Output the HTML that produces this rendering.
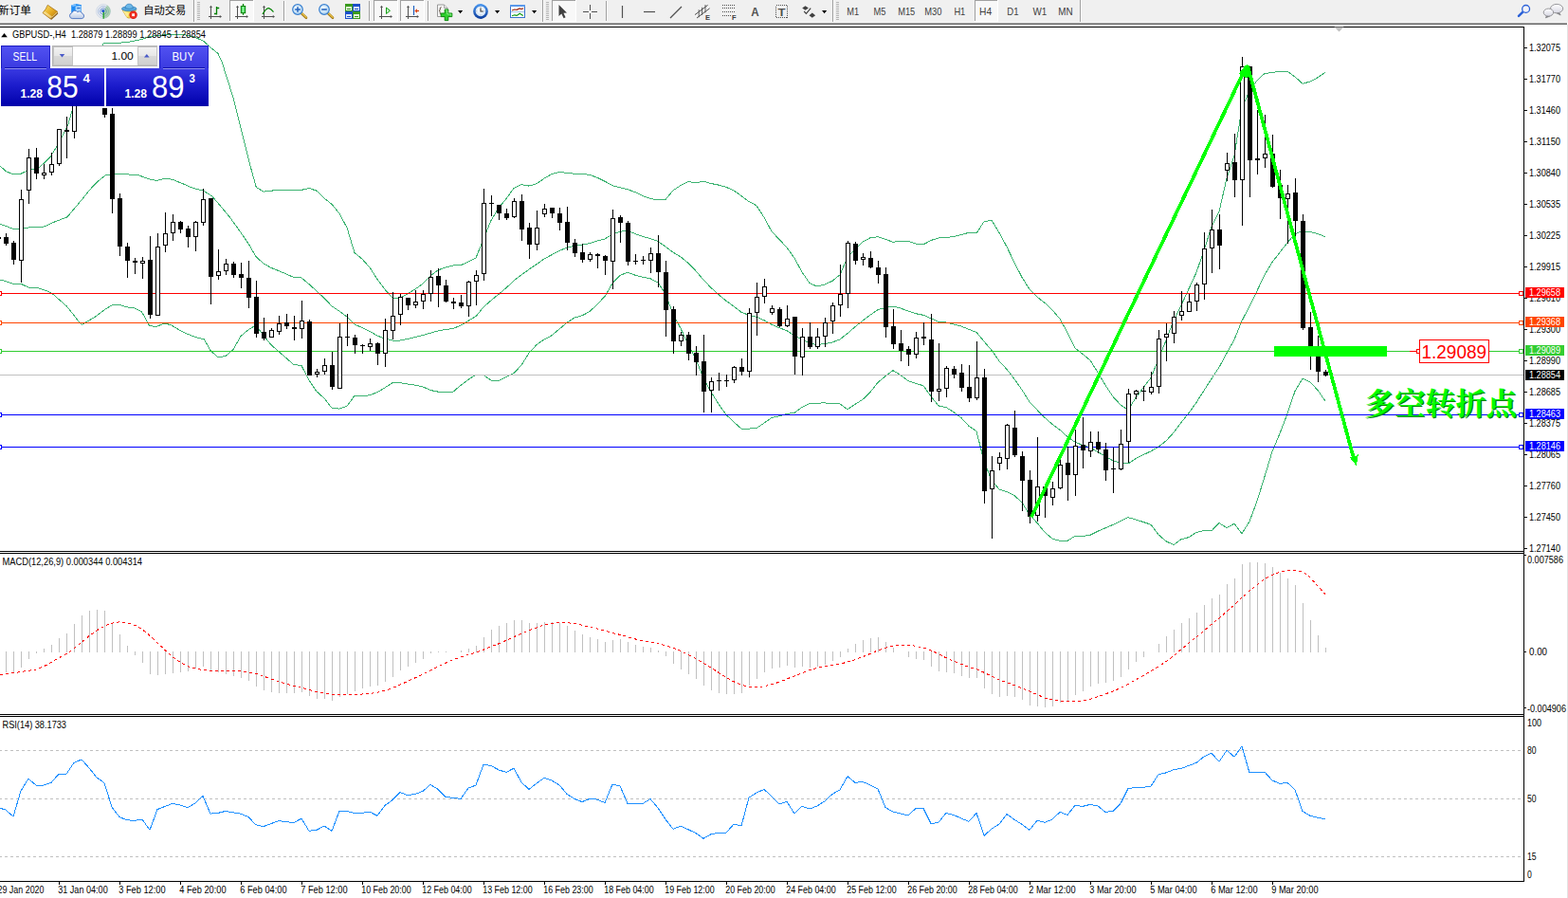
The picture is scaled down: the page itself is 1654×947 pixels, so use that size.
<!DOCTYPE html>
<html><head><meta charset="utf-8"><title>GBPUSD-,H4</title>
<style>html,body{margin:0;padding:0;background:#fff;overflow:hidden}body{width:1654px;height:947px;font-family:"Liberation Sans",sans-serif}text{font-family:"Liberation Sans",sans-serif}</style>
</head><body><svg width="1654" height="947" viewBox="0 0 1654 947" font-family="Liberation Sans, sans-serif" style="display:block"><rect x="0" y="0" width="1654" height="947" fill="#fff" />
<rect x="0" y="0" width="1654" height="24" fill="#f0f0f0" />
<rect x="0" y="23" width="1654" height="1" fill="#f5f5f5" />
<rect x="0" y="24" width="1653" height="1" fill="#a0a0a0" />
<rect x="0" y="25" width="1653" height="1" fill="#696969" />
<rect x="1653" y="26" width="1" height="921" fill="#e3e3e3" />
<rect x="0" y="28" width="1608" height="1" fill="#000" />
<rect x="1607" y="28" width="1" height="902" fill="#000" />
<rect x="0" y="581" width="1608" height="1" fill="#000" />
<rect x="0" y="583" width="1608" height="1" fill="#000" />
<rect x="0" y="753" width="1608" height="1" fill="#000" />
<rect x="0" y="755" width="1608" height="1" fill="#000" />
<rect x="0" y="929" width="1608" height="1" fill="#000" />
<g id="bb">
<polyline points="0.0,175.0 6.7,181.0 13.3,183.4 21.7,183.4 27.5,180.6 33.4,178.4 40.0,177.6 46.7,171.7 53.4,165.0 60.0,154.2 66.7,141.7 71.7,131.7 76.0,116.7 86.0,80.0 94.0,66.0 102.0,58.0 107.6,49.0 109.5,45.4 120.0,45.6 135.0,44.5 150.0,41.5 158.0,38.5 175.0,36.5 195.0,36.8 205.0,39.0 215.0,43.5 222.0,50.0 230.0,56.5 234.0,65.0 246.0,103.0 259.7,157.8 263.6,173.4 270.3,197.6 278.0,202.1 286.0,201.1 294.0,200.6 302.0,200.3 310.0,200.6 318.0,200.4 326.0,198.4 334.0,201.2 342.0,209.1 350.0,215.4 358.0,225.1 366.0,240.1 374.0,266.5 382.0,273.2 390.0,282.0 398.0,294.5 406.0,305.2 414.0,314.3 422.0,314.2 430.0,309.9 438.0,304.9 446.0,299.3 454.0,290.8 462.0,284.9 470.0,282.0 478.0,280.0 486.0,279.7 494.0,276.2 502.0,272.0 510.0,252.3 518.0,232.5 526.0,219.2 534.0,209.6 542.0,198.4 550.0,194.7 558.0,196.1 566.0,193.8 574.0,188.2 582.0,183.5 590.0,181.6 598.0,182.2 606.0,183.2 614.0,183.5 622.0,184.3 630.0,187.3 638.0,191.2 646.0,195.7 654.0,197.8 662.0,199.7 670.0,202.7 678.0,206.5 686.0,209.4 694.0,210.8 702.0,210.5 710.0,200.8 718.0,195.5 726.0,191.6 734.0,192.8 742.0,191.2 750.0,193.5 758.0,195.1 766.0,197.3 774.0,201.0 782.0,206.5 790.0,212.5 798.0,216.8 806.0,229.3 814.0,244.1 822.0,252.4 830.0,261.0 838.0,272.2 846.0,286.9 854.0,298.6 862.0,302.1 870.0,300.1 878.0,296.3 886.0,289.8 894.0,271.4 902.0,263.0 910.0,255.0 918.0,250.8 926.0,249.8 934.0,252.3 942.0,255.3 950.0,254.3 958.0,254.4 966.0,257.1 974.0,257.9 982.0,253.5 990.0,251.0 998.0,250.5 1006.0,249.5 1014.0,247.6 1022.0,245.3 1030.0,246.0 1038.0,233.8 1046.0,232.2 1054.0,245.4 1062.0,260.2 1070.0,276.9 1078.0,292.4 1086.0,305.1 1094.0,313.2 1102.0,319.3 1110.0,326.9 1118.0,336.2 1126.0,350.8 1134.0,367.1 1142.0,373.3 1150.0,380.0 1158.0,392.7 1166.0,406.3 1174.0,418.3 1182.0,426.9 1190.0,432.5 1198.0,419.5 1206.0,408.7 1214.0,398.5 1222.0,378.8 1230.0,359.0 1238.0,337.8 1246.0,322.0 1254.0,304.6 1262.0,287.3 1270.0,264.2 1278.0,239.0 1286.0,223.1 1294.0,188.1 1302.0,164.1 1310.0,114.0 1318.0,96.2 1326.0,84.9 1334.0,77.4 1342.0,76.7 1350.0,75.1 1358.0,75.2 1366.0,81.0 1374.0,88.2 1382.0,86.1 1390.0,81.8 1398.0,76.3" fill="none" stroke="#3cb371" stroke-width="1" shape-rendering="crispEdges"/>
<polyline points="0.0,236.5 6.7,238.5 14.0,241.5 21.7,241.5 30.0,240.0 41.7,239.8 48.4,238.5 56.7,234.3 63.4,231.8 71.0,228.8 78.4,220.0 86.8,210.0 95.0,199.8 103.5,191.0 111.0,185.0 116.8,184.0 130.0,183.4 146.8,185.0 158.5,189.3 165.0,190.4 175.0,188.0 182.0,189.3 192.0,193.4 203.6,198.4 214.4,201.0 223.6,206.8 233.6,218.5 242.0,228.5 250.3,240.0 262.0,256.8 270.0,270.6 278.0,278.0 286.0,282.4 294.0,285.6 302.0,289.0 310.0,292.6 318.0,292.9 326.0,299.7 334.0,307.0 342.0,314.5 350.0,322.8 358.0,328.1 366.0,334.2 374.0,341.9 382.0,345.6 390.0,349.3 398.0,354.1 406.0,357.0 414.0,359.0 422.0,359.0 430.0,357.5 438.0,355.5 446.0,353.6 454.0,351.2 462.0,349.0 470.0,347.5 478.0,346.6 486.0,343.0 494.0,338.3 502.0,333.6 510.0,323.9 518.0,316.8 526.0,310.3 534.0,303.6 542.0,296.0 550.0,289.9 558.0,284.1 566.0,278.7 574.0,273.0 582.0,268.7 590.0,264.3 598.0,261.3 606.0,259.1 614.0,258.2 622.0,256.5 630.0,254.1 638.0,251.9 646.0,247.2 654.0,244.2 662.0,243.4 670.0,246.5 678.0,249.5 686.0,251.6 694.0,254.4 702.0,260.2 710.0,266.1 718.0,270.9 726.0,277.5 734.0,285.7 742.0,295.0 750.0,303.4 758.0,310.6 766.0,317.3 774.0,323.0 782.0,329.3 790.0,332.3 798.0,334.2 806.0,337.8 814.0,342.2 822.0,345.7 830.0,348.7 838.0,353.8 846.0,358.2 854.0,362.1 862.0,363.6 870.0,362.5 878.0,361.0 886.0,357.9 894.0,351.6 902.0,344.7 910.0,338.1 918.0,332.2 926.0,326.6 934.0,324.5 942.0,323.0 950.0,325.0 958.0,328.1 966.0,330.7 974.0,332.3 982.0,335.8 990.0,339.4 998.0,340.0 1006.0,342.0 1014.0,344.1 1022.0,347.4 1030.0,350.3 1038.0,360.1 1046.0,369.4 1054.0,380.7 1062.0,389.4 1070.0,399.8 1078.0,411.1 1086.0,423.9 1094.0,432.3 1102.0,440.3 1110.0,447.5 1118.0,453.3 1126.0,460.6 1134.0,466.2 1142.0,469.4 1150.0,472.2 1158.0,476.4 1166.0,481.5 1174.0,485.8 1182.0,488.2 1190.0,489.0 1198.0,483.7 1206.0,479.6 1214.0,475.9 1222.0,471.3 1230.0,464.9 1238.0,456.2 1246.0,445.4 1254.0,435.6 1262.0,424.4 1270.0,411.8 1278.0,399.4 1286.0,387.3 1294.0,372.4 1302.0,358.1 1310.0,338.4 1318.0,323.1 1326.0,306.7 1334.0,290.0 1342.0,276.5 1350.0,266.2 1358.0,255.8 1366.0,246.7 1374.0,243.6 1382.0,244.6 1390.0,246.6 1398.0,249.7" fill="none" stroke="#3cb371" stroke-width="1" shape-rendering="crispEdges"/>
<polyline points="0.0,295.0 6.7,296.8 14.2,299.3 22.5,299.6 30.0,303.0 40.0,303.8 50.0,306.8 56.7,311.0 63.4,316.8 70.0,322.6 76.8,331.0 81.8,337.7 86.4,342.3 93.4,338.2 101.8,333.2 110.0,326.8 118.5,321.5 126.8,321.5 133.5,323.8 141.8,324.8 149.3,328.5 153.5,336.0 157.7,343.8 165.2,344.3 173.5,341.0 180.2,342.7 188.6,347.7 196.9,351.8 205.2,355.2 215.2,357.7 222.0,369.5 230.0,376.9 238.0,375.5 246.0,368.7 254.0,354.4 262.0,347.8 270.0,343.0 278.0,353.9 286.0,363.7 294.0,370.7 302.0,377.7 310.0,384.6 318.0,385.5 326.0,401.0 334.0,412.8 342.0,420.0 350.0,430.3 358.0,431.1 366.0,428.2 374.0,417.3 382.0,417.9 390.0,416.7 398.0,413.7 406.0,408.9 414.0,403.6 422.0,403.7 430.0,405.0 438.0,406.1 446.0,407.9 454.0,411.5 462.0,413.1 470.0,413.1 478.0,413.2 486.0,406.3 494.0,400.3 502.0,395.1 510.0,395.4 518.0,401.1 526.0,401.4 534.0,397.5 542.0,393.5 550.0,385.2 558.0,372.2 566.0,363.6 574.0,357.9 582.0,353.8 590.0,347.0 598.0,340.3 606.0,335.0 614.0,332.8 622.0,328.6 630.0,320.9 638.0,312.6 646.0,298.8 654.0,290.5 662.0,287.1 670.0,290.2 678.0,292.4 686.0,293.7 694.0,298.1 702.0,309.8 710.0,331.4 718.0,346.3 726.0,363.5 734.0,378.5 742.0,398.9 750.0,413.3 758.0,426.1 766.0,437.4 774.0,445.0 782.0,452.1 790.0,452.1 798.0,451.5 806.0,446.2 814.0,440.4 822.0,438.9 830.0,436.4 838.0,435.3 846.0,429.4 854.0,425.7 862.0,425.1 870.0,424.9 878.0,425.7 886.0,426.0 894.0,431.8 902.0,426.3 910.0,421.3 918.0,413.5 926.0,403.4 934.0,396.7 942.0,390.7 950.0,395.6 958.0,401.7 966.0,404.3 974.0,406.8 982.0,418.0 990.0,427.9 998.0,429.6 1006.0,434.5 1014.0,440.6 1022.0,449.4 1030.0,454.6 1038.0,486.3 1046.0,506.6 1054.0,516.0 1062.0,518.5 1070.0,522.7 1078.0,529.8 1086.0,542.7 1094.0,551.4 1102.0,561.3 1110.0,568.1 1118.0,570.3 1126.0,570.3 1134.0,565.3 1142.0,565.4 1150.0,564.3 1158.0,560.2 1166.0,556.8 1174.0,553.4 1182.0,549.5 1190.0,545.6 1198.0,547.9 1206.0,550.5 1214.0,553.2 1222.0,563.8 1230.0,570.8 1238.0,574.6 1246.0,568.7 1254.0,566.6 1262.0,561.5 1270.0,559.5 1278.0,559.8 1286.0,551.5 1294.0,556.7 1302.0,552.2 1310.0,562.7 1318.0,550.0 1326.0,528.4 1334.0,502.6 1342.0,476.2 1350.0,457.2 1358.0,436.4 1366.0,412.5 1374.0,399.1 1382.0,403.0 1390.0,411.4 1398.0,423.1" fill="none" stroke="#3cb371" stroke-width="1" shape-rendering="crispEdges"/>
</g>
<rect x="0" y="395" width="1607" height="1" fill="#c0c0c0" shape-rendering="crispEdges"/>
<rect x="0" y="309" width="1607" height="1" fill="#ff0000" shape-rendering="crispEdges"/>
<rect x="-2.5" y="307.5" width="4" height="4" fill="#fff" stroke="#ff0000" stroke-width="1" shape-rendering="crispEdges"/>
<rect x="1602.5" y="307.5" width="4" height="4" fill="#fff" stroke="#ff0000" stroke-width="1" shape-rendering="crispEdges"/>
<rect x="0" y="340" width="1607" height="1" fill="#ff4500" shape-rendering="crispEdges"/>
<rect x="-2.5" y="338.5" width="4" height="4" fill="#fff" stroke="#ff4500" stroke-width="1" shape-rendering="crispEdges"/>
<rect x="1602.5" y="338.5" width="4" height="4" fill="#fff" stroke="#ff4500" stroke-width="1" shape-rendering="crispEdges"/>
<rect x="0" y="370" width="1607" height="1" fill="#32cd32" shape-rendering="crispEdges"/>
<rect x="-2.5" y="368.5" width="4" height="4" fill="#fff" stroke="#32cd32" stroke-width="1" shape-rendering="crispEdges"/>
<rect x="1602.5" y="368.5" width="4" height="4" fill="#fff" stroke="#32cd32" stroke-width="1" shape-rendering="crispEdges"/>
<rect x="0" y="437" width="1607" height="1" fill="#0000ff" shape-rendering="crispEdges"/>
<rect x="-2.5" y="435.5" width="4" height="4" fill="#fff" stroke="#0000ff" stroke-width="1" shape-rendering="crispEdges"/>
<rect x="1602.5" y="435.5" width="4" height="4" fill="#fff" stroke="#0000ff" stroke-width="1" shape-rendering="crispEdges"/>
<rect x="0" y="471" width="1607" height="1" fill="#0000ff" shape-rendering="crispEdges"/>
<rect x="-2.5" y="469.5" width="4" height="4" fill="#fff" stroke="#0000ff" stroke-width="1" shape-rendering="crispEdges"/>
<rect x="1602.5" y="469.5" width="4" height="4" fill="#fff" stroke="#0000ff" stroke-width="1" shape-rendering="crispEdges"/>
<g id="candles" shape-rendering="crispEdges">
<rect x="6" y="246" width="1" height="13" fill="#000" />
<rect x="4" y="250" width="5" height="7" fill="#000" />
<rect x="14" y="254" width="1" height="25" fill="#000" />
<rect x="12" y="256" width="5" height="18" fill="#000" />
<rect x="22" y="200" width="1" height="10" fill="#000" />
<rect x="22" y="275" width="1" height="23" fill="#000" />
<rect x="20.5" y="210.5" width="4" height="64" fill="#fff" stroke="#000" stroke-width="1"/>
<rect x="30" y="157" width="1" height="9" fill="#000" />
<rect x="30" y="201" width="1" height="14" fill="#000" />
<rect x="28.5" y="166.5" width="4" height="34" fill="#fff" stroke="#000" stroke-width="1"/>
<rect x="38" y="156" width="1" height="33" fill="#000" />
<rect x="36" y="166" width="5" height="17" fill="#000" />
<rect x="46" y="173" width="1" height="9" fill="#000" />
<rect x="46" y="185" width="1" height="4" fill="#000" />
<rect x="44.5" y="182.5" width="4" height="2" fill="#fff" stroke="#000" stroke-width="1"/>
<rect x="54" y="161" width="1" height="12" fill="#000" />
<rect x="54" y="182" width="1" height="3" fill="#000" />
<rect x="52.5" y="173.5" width="4" height="8" fill="#fff" stroke="#000" stroke-width="1"/>
<rect x="62" y="173" width="1" height="2" fill="#000" />
<rect x="60.5" y="136.5" width="4" height="36" fill="#fff" stroke="#000" stroke-width="1"/>
<rect x="70" y="123" width="1" height="44" fill="#000" />
<rect x="68" y="137" width="5" height="2" fill="#000" />
<rect x="78" y="95" width="1" height="5" fill="#000" />
<rect x="78" y="139" width="1" height="7" fill="#000" />
<rect x="76.5" y="100.5" width="4" height="38" fill="#fff" stroke="#000" stroke-width="1"/>
<rect x="110" y="114" width="1" height="10" fill="#000" />
<rect x="108" y="114" width="5" height="7" fill="#000" />
<rect x="118" y="114" width="1" height="111" fill="#000" />
<rect x="116" y="120" width="5" height="90" fill="#000" />
<rect x="126" y="204" width="1" height="66" fill="#000" />
<rect x="124" y="209" width="5" height="51" fill="#000" />
<rect x="134" y="256" width="1" height="37" fill="#000" />
<rect x="132" y="260" width="5" height="15" fill="#000" />
<rect x="142" y="272" width="1" height="17" fill="#000" />
<rect x="140" y="275" width="5" height="2" fill="#000" />
<rect x="150" y="271" width="1" height="4" fill="#000" />
<rect x="150" y="278" width="1" height="16" fill="#000" />
<rect x="148.5" y="275.5" width="4" height="2" fill="#fff" stroke="#000" stroke-width="1"/>
<rect x="158" y="249" width="1" height="87" fill="#000" />
<rect x="156" y="274" width="5" height="58" fill="#000" />
<rect x="166" y="246" width="1" height="14" fill="#000" />
<rect x="164.5" y="260.5" width="4" height="72" fill="#fff" stroke="#000" stroke-width="1"/>
<rect x="174" y="224" width="1" height="22" fill="#000" />
<rect x="174" y="259" width="1" height="7" fill="#000" />
<rect x="172.5" y="246.5" width="4" height="12" fill="#fff" stroke="#000" stroke-width="1"/>
<rect x="182" y="226" width="1" height="8" fill="#000" />
<rect x="182" y="246" width="1" height="8" fill="#000" />
<rect x="180.5" y="234.5" width="4" height="11" fill="#fff" stroke="#000" stroke-width="1"/>
<rect x="190" y="233" width="1" height="13" fill="#000" />
<rect x="188" y="234" width="5" height="8" fill="#000" />
<rect x="198" y="238" width="1" height="23" fill="#000" />
<rect x="196" y="241" width="5" height="9" fill="#000" />
<rect x="206" y="233" width="1" height="1" fill="#000" />
<rect x="206" y="250" width="1" height="15" fill="#000" />
<rect x="204.5" y="234.5" width="4" height="15" fill="#fff" stroke="#000" stroke-width="1"/>
<rect x="214" y="199" width="1" height="11" fill="#000" />
<rect x="214" y="235" width="1" height="3" fill="#000" />
<rect x="212.5" y="210.5" width="4" height="24" fill="#fff" stroke="#000" stroke-width="1"/>
<rect x="222" y="209" width="1" height="112" fill="#000" />
<rect x="220" y="209" width="5" height="83" fill="#000" />
<rect x="230" y="263" width="1" height="23" fill="#000" />
<rect x="230" y="291" width="1" height="4" fill="#000" />
<rect x="228.5" y="286.5" width="4" height="4" fill="#fff" stroke="#000" stroke-width="1"/>
<rect x="238" y="273" width="1" height="5" fill="#000" />
<rect x="238" y="286" width="1" height="4" fill="#000" />
<rect x="236.5" y="278.5" width="4" height="7" fill="#fff" stroke="#000" stroke-width="1"/>
<rect x="246" y="276" width="1" height="17" fill="#000" />
<rect x="244" y="278" width="5" height="12" fill="#000" />
<rect x="254" y="277" width="1" height="27" fill="#000" />
<rect x="252" y="289" width="5" height="4" fill="#000" />
<rect x="262" y="275" width="1" height="50" fill="#000" />
<rect x="260" y="293" width="5" height="21" fill="#000" />
<rect x="270" y="296" width="1" height="60" fill="#000" />
<rect x="268" y="313" width="5" height="39" fill="#000" />
<rect x="278" y="335" width="1" height="24" fill="#000" />
<rect x="276" y="350" width="5" height="7" fill="#000" />
<rect x="286" y="346" width="1" height="2" fill="#000" />
<rect x="284.5" y="348.5" width="4" height="7" fill="#fff" stroke="#000" stroke-width="1"/>
<rect x="294" y="333" width="1" height="8" fill="#000" />
<rect x="294" y="350" width="1" height="3" fill="#000" />
<rect x="292.5" y="341.5" width="4" height="8" fill="#fff" stroke="#000" stroke-width="1"/>
<rect x="302" y="331" width="1" height="16" fill="#000" />
<rect x="300" y="340" width="5" height="4" fill="#000" />
<rect x="310" y="333" width="1" height="26" fill="#000" />
<rect x="308" y="345" width="5" height="2" fill="#000" />
<rect x="318" y="317" width="1" height="21" fill="#000" />
<rect x="318" y="347" width="1" height="10" fill="#000" />
<rect x="316.5" y="338.5" width="4" height="8" fill="#fff" stroke="#000" stroke-width="1"/>
<rect x="326" y="337" width="1" height="59" fill="#000" />
<rect x="324" y="339" width="5" height="57" fill="#000" />
<rect x="334" y="389" width="1" height="3" fill="#000" />
<rect x="334" y="395" width="1" height="3" fill="#000" />
<rect x="332.5" y="392.5" width="4" height="2" fill="#fff" stroke="#000" stroke-width="1"/>
<rect x="342" y="378" width="1" height="7" fill="#000" />
<rect x="342" y="392" width="1" height="3" fill="#000" />
<rect x="340.5" y="385.5" width="4" height="6" fill="#fff" stroke="#000" stroke-width="1"/>
<rect x="350" y="371" width="1" height="40" fill="#000" />
<rect x="348" y="385" width="5" height="23" fill="#000" />
<rect x="358" y="341" width="1" height="14" fill="#000" />
<rect x="356.5" y="355.5" width="4" height="54" fill="#fff" stroke="#000" stroke-width="1"/>
<rect x="366" y="331" width="1" height="34" fill="#000" />
<rect x="364" y="355" width="5" height="1" fill="#000" />
<rect x="374" y="353" width="1" height="20" fill="#000" />
<rect x="372" y="356" width="5" height="8" fill="#000" />
<rect x="382" y="363" width="1" height="10" fill="#000" />
<rect x="380" y="364" width="5" height="1" fill="#000" />
<rect x="390" y="357" width="1" height="5" fill="#000" />
<rect x="390" y="366" width="1" height="4" fill="#000" />
<rect x="388.5" y="362.5" width="4" height="3" fill="#fff" stroke="#000" stroke-width="1"/>
<rect x="398" y="361" width="1" height="24" fill="#000" />
<rect x="396" y="362" width="5" height="11" fill="#000" />
<rect x="406" y="336" width="1" height="12" fill="#000" />
<rect x="406" y="373" width="1" height="14" fill="#000" />
<rect x="404.5" y="348.5" width="4" height="24" fill="#fff" stroke="#000" stroke-width="1"/>
<rect x="414" y="308" width="1" height="25" fill="#000" />
<rect x="414" y="349" width="1" height="9" fill="#000" />
<rect x="412.5" y="333.5" width="4" height="15" fill="#fff" stroke="#000" stroke-width="1"/>
<rect x="422" y="310" width="1" height="3" fill="#000" />
<rect x="422" y="332" width="1" height="11" fill="#000" />
<rect x="420.5" y="313.5" width="4" height="18" fill="#fff" stroke="#000" stroke-width="1"/>
<rect x="430" y="314" width="1" height="13" fill="#000" />
<rect x="428" y="314" width="5" height="8" fill="#000" />
<rect x="438" y="306" width="1" height="12" fill="#000" />
<rect x="438" y="322" width="1" height="3" fill="#000" />
<rect x="436.5" y="318.5" width="4" height="3" fill="#fff" stroke="#000" stroke-width="1"/>
<rect x="446" y="306" width="1" height="4" fill="#000" />
<rect x="446" y="318" width="1" height="8" fill="#000" />
<rect x="444.5" y="310.5" width="4" height="7" fill="#fff" stroke="#000" stroke-width="1"/>
<rect x="454" y="285" width="1" height="7" fill="#000" />
<rect x="454" y="310" width="1" height="8" fill="#000" />
<rect x="452.5" y="292.5" width="4" height="17" fill="#fff" stroke="#000" stroke-width="1"/>
<rect x="462" y="283" width="1" height="41" fill="#000" />
<rect x="460" y="291" width="5" height="10" fill="#000" />
<rect x="470" y="295" width="1" height="24" fill="#000" />
<rect x="468" y="301" width="5" height="17" fill="#000" />
<rect x="478" y="314" width="1" height="12" fill="#000" />
<rect x="476" y="318" width="5" height="2" fill="#000" />
<rect x="486" y="311" width="1" height="14" fill="#000" />
<rect x="484" y="319" width="5" height="4" fill="#000" />
<rect x="494" y="296" width="1" height="1" fill="#000" />
<rect x="494" y="323" width="1" height="11" fill="#000" />
<rect x="492.5" y="297.5" width="4" height="25" fill="#fff" stroke="#000" stroke-width="1"/>
<rect x="502" y="285" width="1" height="5" fill="#000" />
<rect x="502" y="297" width="1" height="25" fill="#000" />
<rect x="500.5" y="290.5" width="4" height="6" fill="#fff" stroke="#000" stroke-width="1"/>
<rect x="510" y="199" width="1" height="15" fill="#000" />
<rect x="510" y="289" width="1" height="7" fill="#000" />
<rect x="508.5" y="214.5" width="4" height="74" fill="#fff" stroke="#000" stroke-width="1"/>
<rect x="518" y="206" width="1" height="22" fill="#000" />
<rect x="516" y="214" width="5" height="1" fill="#000" />
<rect x="526" y="216" width="1" height="16" fill="#000" />
<rect x="524" y="216" width="5" height="9" fill="#000" />
<rect x="534" y="220" width="1" height="12" fill="#000" />
<rect x="532" y="225" width="5" height="5" fill="#000" />
<rect x="542" y="209" width="1" height="3" fill="#000" />
<rect x="542" y="229" width="1" height="1" fill="#000" />
<rect x="540.5" y="212.5" width="4" height="16" fill="#fff" stroke="#000" stroke-width="1"/>
<rect x="550" y="205" width="1" height="49" fill="#000" />
<rect x="548" y="212" width="5" height="30" fill="#000" />
<rect x="558" y="235" width="1" height="38" fill="#000" />
<rect x="556" y="240" width="5" height="18" fill="#000" />
<rect x="566" y="222" width="1" height="18" fill="#000" />
<rect x="566" y="258" width="1" height="6" fill="#000" />
<rect x="564.5" y="240.5" width="4" height="17" fill="#fff" stroke="#000" stroke-width="1"/>
<rect x="574" y="215" width="1" height="5" fill="#000" />
<rect x="574" y="226" width="1" height="3" fill="#000" />
<rect x="572.5" y="220.5" width="4" height="5" fill="#fff" stroke="#000" stroke-width="1"/>
<rect x="582" y="219" width="1" height="11" fill="#000" />
<rect x="580" y="219" width="5" height="6" fill="#000" />
<rect x="590" y="219" width="1" height="24" fill="#000" />
<rect x="588" y="225" width="5" height="10" fill="#000" />
<rect x="598" y="218" width="1" height="46" fill="#000" />
<rect x="596" y="234" width="5" height="22" fill="#000" />
<rect x="606" y="252" width="1" height="19" fill="#000" />
<rect x="604" y="256" width="5" height="11" fill="#000" />
<rect x="614" y="257" width="1" height="20" fill="#000" />
<rect x="612" y="266" width="5" height="8" fill="#000" />
<rect x="622" y="266" width="1" height="2" fill="#000" />
<rect x="622" y="274" width="1" height="2" fill="#000" />
<rect x="620.5" y="268.5" width="4" height="5" fill="#fff" stroke="#000" stroke-width="1"/>
<rect x="630" y="267" width="1" height="16" fill="#000" />
<rect x="628" y="268" width="5" height="2" fill="#000" />
<rect x="638" y="269" width="1" height="21" fill="#000" />
<rect x="636" y="270" width="5" height="5" fill="#000" />
<rect x="646" y="221" width="1" height="9" fill="#000" />
<rect x="646" y="276" width="1" height="29" fill="#000" />
<rect x="644.5" y="230.5" width="4" height="45" fill="#fff" stroke="#000" stroke-width="1"/>
<rect x="654" y="227" width="1" height="29" fill="#000" />
<rect x="652" y="229" width="5" height="6" fill="#000" />
<rect x="662" y="233" width="1" height="47" fill="#000" />
<rect x="660" y="235" width="5" height="41" fill="#000" />
<rect x="670" y="268" width="1" height="11" fill="#000" />
<rect x="668" y="275" width="5" height="1" fill="#000" />
<rect x="678" y="270" width="1" height="9" fill="#000" />
<rect x="676" y="274" width="5" height="1" fill="#000" />
<rect x="686" y="261" width="1" height="6" fill="#000" />
<rect x="686" y="275" width="1" height="13" fill="#000" />
<rect x="684.5" y="267.5" width="4" height="7" fill="#fff" stroke="#000" stroke-width="1"/>
<rect x="694" y="248" width="1" height="55" fill="#000" />
<rect x="692" y="267" width="5" height="20" fill="#000" />
<rect x="702" y="275" width="1" height="80" fill="#000" />
<rect x="700" y="287" width="5" height="40" fill="#000" />
<rect x="710" y="323" width="1" height="50" fill="#000" />
<rect x="708" y="326" width="5" height="34" fill="#000" />
<rect x="718" y="350" width="1" height="3" fill="#000" />
<rect x="718" y="360" width="1" height="5" fill="#000" />
<rect x="716.5" y="353.5" width="4" height="6" fill="#fff" stroke="#000" stroke-width="1"/>
<rect x="726" y="350" width="1" height="30" fill="#000" />
<rect x="724" y="353" width="5" height="20" fill="#000" />
<rect x="734" y="365" width="1" height="31" fill="#000" />
<rect x="732" y="372" width="5" height="10" fill="#000" />
<rect x="742" y="353" width="1" height="82" fill="#000" />
<rect x="740" y="381" width="5" height="32" fill="#000" />
<rect x="750" y="398" width="1" height="4" fill="#000" />
<rect x="750" y="412" width="1" height="23" fill="#000" />
<rect x="748.5" y="402.5" width="4" height="9" fill="#fff" stroke="#000" stroke-width="1"/>
<rect x="758" y="393" width="1" height="19" fill="#000" />
<rect x="756" y="401" width="5" height="1" fill="#000" />
<rect x="766" y="395" width="1" height="13" fill="#000" />
<rect x="764" y="401" width="5" height="1" fill="#000" />
<rect x="774" y="386" width="1" height="1" fill="#000" />
<rect x="774" y="401" width="1" height="3" fill="#000" />
<rect x="772.5" y="387.5" width="4" height="13" fill="#fff" stroke="#000" stroke-width="1"/>
<rect x="782" y="378" width="1" height="18" fill="#000" />
<rect x="780" y="387" width="5" height="5" fill="#000" />
<rect x="790" y="325" width="1" height="5" fill="#000" />
<rect x="790" y="392" width="1" height="6" fill="#000" />
<rect x="788.5" y="330.5" width="4" height="61" fill="#fff" stroke="#000" stroke-width="1"/>
<rect x="798" y="298" width="1" height="15" fill="#000" />
<rect x="798" y="330" width="1" height="24" fill="#000" />
<rect x="796.5" y="313.5" width="4" height="16" fill="#fff" stroke="#000" stroke-width="1"/>
<rect x="806" y="294" width="1" height="8" fill="#000" />
<rect x="806" y="313" width="1" height="7" fill="#000" />
<rect x="804.5" y="302.5" width="4" height="10" fill="#fff" stroke="#000" stroke-width="1"/>
<rect x="814" y="322" width="1" height="3" fill="#000" />
<rect x="814" y="330" width="1" height="2" fill="#000" />
<rect x="812.5" y="325.5" width="4" height="4" fill="#fff" stroke="#000" stroke-width="1"/>
<rect x="822" y="324" width="1" height="21" fill="#000" />
<rect x="820" y="326" width="5" height="18" fill="#000" />
<rect x="830" y="322" width="1" height="14" fill="#000" />
<rect x="830" y="344" width="1" height="1" fill="#000" />
<rect x="828.5" y="336.5" width="4" height="7" fill="#fff" stroke="#000" stroke-width="1"/>
<rect x="838" y="334" width="1" height="61" fill="#000" />
<rect x="836" y="334" width="5" height="42" fill="#000" />
<rect x="846" y="346" width="1" height="9" fill="#000" />
<rect x="846" y="377" width="1" height="19" fill="#000" />
<rect x="844.5" y="355.5" width="4" height="21" fill="#fff" stroke="#000" stroke-width="1"/>
<rect x="854" y="340" width="1" height="28" fill="#000" />
<rect x="852" y="355" width="5" height="11" fill="#000" />
<rect x="862" y="346" width="1" height="9" fill="#000" />
<rect x="862" y="366" width="1" height="2" fill="#000" />
<rect x="860.5" y="355.5" width="4" height="10" fill="#fff" stroke="#000" stroke-width="1"/>
<rect x="870" y="335" width="1" height="5" fill="#000" />
<rect x="870" y="355" width="1" height="11" fill="#000" />
<rect x="868.5" y="340.5" width="4" height="14" fill="#fff" stroke="#000" stroke-width="1"/>
<rect x="878" y="319" width="1" height="3" fill="#000" />
<rect x="878" y="339" width="1" height="13" fill="#000" />
<rect x="876.5" y="322.5" width="4" height="16" fill="#fff" stroke="#000" stroke-width="1"/>
<rect x="886" y="279" width="1" height="31" fill="#000" />
<rect x="886" y="322" width="1" height="12" fill="#000" />
<rect x="884.5" y="310.5" width="4" height="11" fill="#fff" stroke="#000" stroke-width="1"/>
<rect x="894" y="254" width="1" height="2" fill="#000" />
<rect x="894" y="310" width="1" height="15" fill="#000" />
<rect x="892.5" y="256.5" width="4" height="53" fill="#fff" stroke="#000" stroke-width="1"/>
<rect x="902" y="255" width="1" height="24" fill="#000" />
<rect x="900" y="257" width="5" height="18" fill="#000" />
<rect x="910" y="267" width="1" height="4" fill="#000" />
<rect x="910" y="274" width="1" height="6" fill="#000" />
<rect x="908.5" y="271.5" width="4" height="2" fill="#fff" stroke="#000" stroke-width="1"/>
<rect x="918" y="265" width="1" height="18" fill="#000" />
<rect x="916" y="272" width="5" height="10" fill="#000" />
<rect x="926" y="275" width="1" height="24" fill="#000" />
<rect x="924" y="282" width="5" height="8" fill="#000" />
<rect x="934" y="282" width="1" height="74" fill="#000" />
<rect x="932" y="289" width="5" height="56" fill="#000" />
<rect x="942" y="326" width="1" height="42" fill="#000" />
<rect x="940" y="344" width="5" height="19" fill="#000" />
<rect x="950" y="348" width="1" height="33" fill="#000" />
<rect x="948" y="362" width="5" height="8" fill="#000" />
<rect x="958" y="365" width="1" height="21" fill="#000" />
<rect x="956" y="368" width="5" height="6" fill="#000" />
<rect x="966" y="350" width="1" height="6" fill="#000" />
<rect x="966" y="374" width="1" height="4" fill="#000" />
<rect x="964.5" y="356.5" width="4" height="17" fill="#fff" stroke="#000" stroke-width="1"/>
<rect x="974" y="340" width="1" height="24" fill="#000" />
<rect x="972" y="355" width="5" height="2" fill="#000" />
<rect x="982" y="331" width="1" height="93" fill="#000" />
<rect x="980" y="358" width="5" height="55" fill="#000" />
<rect x="990" y="362" width="1" height="48" fill="#000" />
<rect x="990" y="413" width="1" height="10" fill="#000" />
<rect x="988.5" y="410.5" width="4" height="2" fill="#fff" stroke="#000" stroke-width="1"/>
<rect x="998" y="386" width="1" height="2" fill="#000" />
<rect x="998" y="410" width="1" height="9" fill="#000" />
<rect x="996.5" y="388.5" width="4" height="21" fill="#fff" stroke="#000" stroke-width="1"/>
<rect x="1006" y="386" width="1" height="13" fill="#000" />
<rect x="1004" y="389" width="5" height="6" fill="#000" />
<rect x="1014" y="384" width="1" height="29" fill="#000" />
<rect x="1012" y="393" width="5" height="16" fill="#000" />
<rect x="1022" y="385" width="1" height="39" fill="#000" />
<rect x="1020" y="408" width="5" height="12" fill="#000" />
<rect x="1030" y="360" width="1" height="38" fill="#000" />
<rect x="1030" y="420" width="1" height="2" fill="#000" />
<rect x="1028.5" y="398.5" width="4" height="21" fill="#fff" stroke="#000" stroke-width="1"/>
<rect x="1038" y="389" width="1" height="142" fill="#000" />
<rect x="1036" y="398" width="5" height="120" fill="#000" />
<rect x="1046" y="481" width="1" height="15" fill="#000" />
<rect x="1046" y="516" width="1" height="52" fill="#000" />
<rect x="1044.5" y="496.5" width="4" height="19" fill="#fff" stroke="#000" stroke-width="1"/>
<rect x="1054" y="477" width="1" height="5" fill="#000" />
<rect x="1054" y="489" width="1" height="7" fill="#000" />
<rect x="1052.5" y="482.5" width="4" height="6" fill="#fff" stroke="#000" stroke-width="1"/>
<rect x="1062" y="447" width="1" height="1" fill="#000" />
<rect x="1062" y="484" width="1" height="11" fill="#000" />
<rect x="1060.5" y="448.5" width="4" height="35" fill="#fff" stroke="#000" stroke-width="1"/>
<rect x="1070" y="433" width="1" height="49" fill="#000" />
<rect x="1068" y="451" width="5" height="29" fill="#000" />
<rect x="1078" y="476" width="1" height="63" fill="#000" />
<rect x="1076" y="481" width="5" height="26" fill="#000" />
<rect x="1086" y="496" width="1" height="56" fill="#000" />
<rect x="1084" y="506" width="5" height="39" fill="#000" />
<rect x="1094" y="461" width="1" height="52" fill="#000" />
<rect x="1094" y="544" width="1" height="6" fill="#000" />
<rect x="1092.5" y="513.5" width="4" height="30" fill="#fff" stroke="#000" stroke-width="1"/>
<rect x="1102" y="513" width="1" height="33" fill="#000" />
<rect x="1100" y="513" width="5" height="10" fill="#000" />
<rect x="1110" y="508" width="1" height="7" fill="#000" />
<rect x="1110" y="525" width="1" height="8" fill="#000" />
<rect x="1108.5" y="515.5" width="4" height="9" fill="#fff" stroke="#000" stroke-width="1"/>
<rect x="1118" y="485" width="1" height="5" fill="#000" />
<rect x="1118" y="515" width="1" height="1" fill="#000" />
<rect x="1116.5" y="490.5" width="4" height="24" fill="#fff" stroke="#000" stroke-width="1"/>
<rect x="1126" y="471" width="1" height="57" fill="#000" />
<rect x="1124" y="488" width="5" height="13" fill="#000" />
<rect x="1134" y="453" width="1" height="17" fill="#000" />
<rect x="1134" y="501" width="1" height="22" fill="#000" />
<rect x="1132.5" y="470.5" width="4" height="30" fill="#fff" stroke="#000" stroke-width="1"/>
<rect x="1142" y="440" width="1" height="54" fill="#000" />
<rect x="1140" y="469" width="5" height="6" fill="#000" />
<rect x="1150" y="455" width="1" height="11" fill="#000" />
<rect x="1150" y="476" width="1" height="6" fill="#000" />
<rect x="1148.5" y="466.5" width="4" height="9" fill="#fff" stroke="#000" stroke-width="1"/>
<rect x="1158" y="455" width="1" height="23" fill="#000" />
<rect x="1156" y="466" width="5" height="8" fill="#000" />
<rect x="1166" y="467" width="1" height="40" fill="#000" />
<rect x="1164" y="474" width="5" height="22" fill="#000" />
<rect x="1174" y="472" width="1" height="48" fill="#000" />
<rect x="1172" y="494" width="5" height="1" fill="#000" />
<rect x="1182" y="453" width="1" height="15" fill="#000" />
<rect x="1182" y="495" width="1" height="1" fill="#000" />
<rect x="1180.5" y="468.5" width="4" height="26" fill="#fff" stroke="#000" stroke-width="1"/>
<rect x="1190" y="410" width="1" height="5" fill="#000" />
<rect x="1190" y="466" width="1" height="22" fill="#000" />
<rect x="1188.5" y="415.5" width="4" height="50" fill="#fff" stroke="#000" stroke-width="1"/>
<rect x="1198" y="411" width="1" height="1" fill="#000" />
<rect x="1198" y="416" width="1" height="5" fill="#000" />
<rect x="1196.5" y="412.5" width="4" height="3" fill="#fff" stroke="#000" stroke-width="1"/>
<rect x="1206" y="407" width="1" height="16" fill="#000" />
<rect x="1204" y="412" width="5" height="1" fill="#000" />
<rect x="1214" y="392" width="1" height="16" fill="#000" />
<rect x="1214" y="414" width="1" height="2" fill="#000" />
<rect x="1212.5" y="408.5" width="4" height="5" fill="#fff" stroke="#000" stroke-width="1"/>
<rect x="1222" y="348" width="1" height="9" fill="#000" />
<rect x="1222" y="408" width="1" height="7" fill="#000" />
<rect x="1220.5" y="357.5" width="4" height="50" fill="#fff" stroke="#000" stroke-width="1"/>
<rect x="1230" y="341" width="1" height="11" fill="#000" />
<rect x="1230" y="356" width="1" height="25" fill="#000" />
<rect x="1228.5" y="352.5" width="4" height="3" fill="#fff" stroke="#000" stroke-width="1"/>
<rect x="1238" y="328" width="1" height="6" fill="#000" />
<rect x="1238" y="352" width="1" height="10" fill="#000" />
<rect x="1236.5" y="334.5" width="4" height="17" fill="#fff" stroke="#000" stroke-width="1"/>
<rect x="1246" y="307" width="1" height="21" fill="#000" />
<rect x="1246" y="333" width="1" height="5" fill="#000" />
<rect x="1244.5" y="328.5" width="4" height="4" fill="#fff" stroke="#000" stroke-width="1"/>
<rect x="1254" y="310" width="1" height="8" fill="#000" />
<rect x="1252.5" y="318.5" width="4" height="10" fill="#fff" stroke="#000" stroke-width="1"/>
<rect x="1262" y="298" width="1" height="2" fill="#000" />
<rect x="1262" y="318" width="1" height="10" fill="#000" />
<rect x="1260.5" y="300.5" width="4" height="17" fill="#fff" stroke="#000" stroke-width="1"/>
<rect x="1270" y="245" width="1" height="17" fill="#000" />
<rect x="1270" y="300" width="1" height="16" fill="#000" />
<rect x="1268.5" y="262.5" width="4" height="37" fill="#fff" stroke="#000" stroke-width="1"/>
<rect x="1278" y="221" width="1" height="21" fill="#000" />
<rect x="1278" y="262" width="1" height="26" fill="#000" />
<rect x="1276.5" y="242.5" width="4" height="19" fill="#fff" stroke="#000" stroke-width="1"/>
<rect x="1286" y="226" width="1" height="58" fill="#000" />
<rect x="1284" y="242" width="5" height="17" fill="#000" />
<rect x="1294" y="161" width="1" height="11" fill="#000" />
<rect x="1294" y="180" width="1" height="11" fill="#000" />
<rect x="1292.5" y="172.5" width="4" height="7" fill="#fff" stroke="#000" stroke-width="1"/>
<rect x="1302" y="141" width="1" height="67" fill="#000" />
<rect x="1300" y="171" width="5" height="19" fill="#000" />
<rect x="1310" y="60" width="1" height="10" fill="#000" />
<rect x="1310" y="190" width="1" height="48" fill="#000" />
<rect x="1308.5" y="70.5" width="4" height="119" fill="#fff" stroke="#000" stroke-width="1"/>
<rect x="1318" y="70" width="1" height="138" fill="#000" />
<rect x="1316" y="70" width="5" height="99" fill="#000" />
<rect x="1326" y="116" width="1" height="68" fill="#000" />
<rect x="1324" y="167" width="5" height="2" fill="#000" />
<rect x="1334" y="121" width="1" height="41" fill="#000" />
<rect x="1334" y="167" width="1" height="10" fill="#000" />
<rect x="1332.5" y="162.5" width="4" height="4" fill="#fff" stroke="#000" stroke-width="1"/>
<rect x="1342" y="142" width="1" height="56" fill="#000" />
<rect x="1340" y="162" width="5" height="35" fill="#000" />
<rect x="1350" y="179" width="1" height="52" fill="#000" />
<rect x="1348" y="195" width="5" height="14" fill="#000" />
<rect x="1358" y="195" width="1" height="9" fill="#000" />
<rect x="1358" y="210" width="1" height="47" fill="#000" />
<rect x="1356.5" y="204.5" width="4" height="5" fill="#fff" stroke="#000" stroke-width="1"/>
<rect x="1366" y="188" width="1" height="62" fill="#000" />
<rect x="1364" y="203" width="5" height="30" fill="#000" />
<rect x="1374" y="226" width="1" height="122" fill="#000" />
<rect x="1372" y="233" width="5" height="113" fill="#000" />
<rect x="1382" y="329" width="1" height="61" fill="#000" />
<rect x="1380" y="345" width="5" height="31" fill="#000" />
<rect x="1390" y="354" width="1" height="49" fill="#000" />
<rect x="1388" y="376" width="5" height="16" fill="#000" />
<rect x="1398" y="390" width="1" height="7" fill="#000" />
<rect x="1396" y="392" width="5" height="4" fill="#000" />
<rect x="-4" y="250" width="5" height="2" fill="#000" />
</g>
<rect x="1344" y="365" width="119" height="11" fill="#00ff00" shape-rendering="crispEdges"/>
<g shape-rendering="crispEdges"><line x1="1087.8" y1="545.6" x2="1314.6" y2="70" stroke="#00ff00" stroke-width="3.7"/>
<polygon points="1315.4,67.6 1306.6,77.6 1311,79.2 1314.3,82.6 1318.4,80" fill="#00ff00"/>
<line x1="1316" y1="69" x2="1428.8" y2="486.5" stroke="#00ff00" stroke-width="3.7"/>
<polygon points="1430.7,491.2 1422.8,481.3 1427.6,483.2 1433,478.3" fill="#00ff00"/></g>
<g shape-rendering="crispEdges">
<rect x="1487" y="370" width="8" height="1" fill="#ff0000" />
<rect x="1494.5" y="368.5" width="3" height="4" fill="#fff" stroke="#ff0000" stroke-width="1"/>
<rect x="1497.5" y="358.5" width="73" height="24" fill="#fff" stroke="#ff0000" stroke-width="1"/>
</g>
<text x="1499.5" y="378" font-size="19.5" fill="#ff0000" textLength="68.5" lengthAdjust="spacingAndGlyphs" >1.29089</text>
<text x="1439" y="436.5" font-size="32" font-weight="bold" fill="#008000" textLength="161" lengthAdjust="spacingAndGlyphs" transform="translate(1.2,1.2)" style="font-family:'Liberation Serif','Noto Serif CJK SC',serif">多空转折点</text>
<text x="1439" y="436.5" font-size="32" font-weight="bold" fill="#00ff00" textLength="161" lengthAdjust="spacingAndGlyphs" style="font-family:'Liberation Serif','Noto Serif CJK SC',serif">多空转折点</text>
<g shape-rendering="crispEdges">
<rect x="1608" y="50" width="3" height="1" fill="#000" />
<rect x="1608" y="83" width="3" height="1" fill="#000" />
<rect x="1608" y="116" width="3" height="1" fill="#000" />
<rect x="1608" y="149" width="3" height="1" fill="#000" />
<rect x="1608" y="182" width="3" height="1" fill="#000" />
<rect x="1608" y="215" width="3" height="1" fill="#000" />
<rect x="1608" y="248" width="3" height="1" fill="#000" />
<rect x="1608" y="281" width="3" height="1" fill="#000" />
<rect x="1608" y="314" width="3" height="1" fill="#000" />
<rect x="1608" y="347" width="3" height="1" fill="#000" />
<rect x="1608" y="380" width="3" height="1" fill="#000" />
<rect x="1608" y="413" width="3" height="1" fill="#000" />
<rect x="1608" y="446" width="3" height="1" fill="#000" />
<rect x="1608" y="479" width="3" height="1" fill="#000" />
<rect x="1608" y="512" width="3" height="1" fill="#000" />
<rect x="1608" y="545" width="3" height="1" fill="#000" />
<rect x="1608" y="578" width="3" height="1" fill="#000" />
</g>
<text x="1613" y="54" font-size="10.2" fill="#000" textLength="33" lengthAdjust="spacingAndGlyphs" >1.32075</text>
<text x="1613" y="87" font-size="10.2" fill="#000" textLength="33" lengthAdjust="spacingAndGlyphs" >1.31770</text>
<text x="1613" y="120" font-size="10.2" fill="#000" textLength="33" lengthAdjust="spacingAndGlyphs" >1.31460</text>
<text x="1613" y="153" font-size="10.2" fill="#000" textLength="33" lengthAdjust="spacingAndGlyphs" >1.31150</text>
<text x="1613" y="186" font-size="10.2" fill="#000" textLength="33" lengthAdjust="spacingAndGlyphs" >1.30840</text>
<text x="1613" y="219" font-size="10.2" fill="#000" textLength="33" lengthAdjust="spacingAndGlyphs" >1.30535</text>
<text x="1613" y="252" font-size="10.2" fill="#000" textLength="33" lengthAdjust="spacingAndGlyphs" >1.30225</text>
<text x="1613" y="285" font-size="10.2" fill="#000" textLength="33" lengthAdjust="spacingAndGlyphs" >1.29915</text>
<text x="1613" y="318" font-size="10.2" fill="#000" textLength="33" lengthAdjust="spacingAndGlyphs" >1.29610</text>
<text x="1613" y="351" font-size="10.2" fill="#000" textLength="33" lengthAdjust="spacingAndGlyphs" >1.29300</text>
<text x="1613" y="384" font-size="10.2" fill="#000" textLength="33" lengthAdjust="spacingAndGlyphs" >1.28990</text>
<text x="1613" y="417" font-size="10.2" fill="#000" textLength="33" lengthAdjust="spacingAndGlyphs" >1.28685</text>
<text x="1613" y="450" font-size="10.2" fill="#000" textLength="33" lengthAdjust="spacingAndGlyphs" >1.28375</text>
<text x="1613" y="483" font-size="10.2" fill="#000" textLength="33" lengthAdjust="spacingAndGlyphs" >1.28065</text>
<text x="1613" y="516" font-size="10.2" fill="#000" textLength="33" lengthAdjust="spacingAndGlyphs" >1.27760</text>
<text x="1613" y="549" font-size="10.2" fill="#000" textLength="33" lengthAdjust="spacingAndGlyphs" >1.27450</text>
<text x="1613" y="582" font-size="10.2" fill="#000" textLength="33" lengthAdjust="spacingAndGlyphs" >1.27140</text>
<rect x="1609" y="303" width="41" height="11" fill="#ff0000" shape-rendering="crispEdges"/>
<text x="1613" y="312" font-size="10.2" fill="#fff" textLength="33" lengthAdjust="spacingAndGlyphs" >1.29658</text>
<rect x="1609" y="334" width="41" height="11" fill="#ff4500" shape-rendering="crispEdges"/>
<text x="1613" y="343" font-size="10.2" fill="#fff" textLength="33" lengthAdjust="spacingAndGlyphs" >1.29368</text>
<rect x="1609" y="364" width="41" height="11" fill="#32cd32" shape-rendering="crispEdges"/>
<text x="1613" y="373" font-size="10.2" fill="#fff" textLength="33" lengthAdjust="spacingAndGlyphs" >1.29089</text>
<rect x="1609" y="390" width="41" height="11" fill="#000" shape-rendering="crispEdges"/>
<text x="1613" y="399" font-size="10.2" fill="#fff" textLength="33" lengthAdjust="spacingAndGlyphs" >1.28854</text>
<rect x="1609" y="431" width="41" height="11" fill="#0000ff" shape-rendering="crispEdges"/>
<text x="1613" y="440" font-size="10.2" fill="#fff" textLength="33" lengthAdjust="spacingAndGlyphs" >1.28463</text>
<rect x="1609" y="465" width="41" height="11" fill="#0000ff" shape-rendering="crispEdges"/>
<text x="1613" y="474" font-size="10.2" fill="#fff" textLength="33" lengthAdjust="spacingAndGlyphs" >1.28146</text>
<polygon points="1407.5,28.5 1417.5,28.5 1412.5,33.5" fill="#c0c0c0"/>
<polygon points="4.5,35 1.2,39.3 7.8,39.3" fill="#000"/>
<text x="13" y="40" font-size="10.2" fill="#000" textLength="204" lengthAdjust="spacingAndGlyphs" xml:space="preserve">GBPUSD-,H4&#160;&#160;1.28879 1.28899 1.28845 1.28854</text>
<text x="2.5" y="596.2" font-size="10.2" fill="#000" textLength="147.5" lengthAdjust="spacingAndGlyphs" >MACD(12,26,9) 0.000344 0.004314</text>
<g shape-rendering="crispEdges">
<rect x="6" y="687" width="1" height="22" fill="#c0c0c0" />
<rect x="14" y="687" width="1" height="23" fill="#c0c0c0" />
<rect x="22" y="687" width="1" height="17" fill="#c0c0c0" />
<rect x="30" y="687" width="1" height="8" fill="#c0c0c0" />
<rect x="38" y="687" width="1" height="2" fill="#c0c0c0" />
<rect x="46" y="684" width="1" height="4" fill="#c0c0c0" />
<rect x="54" y="680" width="1" height="8" fill="#c0c0c0" />
<rect x="62" y="673" width="1" height="15" fill="#c0c0c0" />
<rect x="70" y="668" width="1" height="20" fill="#c0c0c0" />
<rect x="78" y="658" width="1" height="30" fill="#c0c0c0" />
<rect x="86" y="649" width="1" height="39" fill="#c0c0c0" />
<rect x="94" y="644" width="1" height="44" fill="#c0c0c0" />
<rect x="102" y="643" width="1" height="45" fill="#c0c0c0" />
<rect x="110" y="644" width="1" height="44" fill="#c0c0c0" />
<rect x="118" y="657" width="1" height="31" fill="#c0c0c0" />
<rect x="126" y="669" width="1" height="19" fill="#c0c0c0" />
<rect x="134" y="681" width="1" height="7" fill="#c0c0c0" />
<rect x="142" y="687" width="1" height="4" fill="#c0c0c0" />
<rect x="150" y="687" width="1" height="12" fill="#c0c0c0" />
<rect x="158" y="687" width="1" height="24" fill="#c0c0c0" />
<rect x="166" y="687" width="1" height="25" fill="#c0c0c0" />
<rect x="174" y="687" width="1" height="24" fill="#c0c0c0" />
<rect x="182" y="687" width="1" height="23" fill="#c0c0c0" />
<rect x="190" y="687" width="1" height="22" fill="#c0c0c0" />
<rect x="198" y="687" width="1" height="21" fill="#c0c0c0" />
<rect x="206" y="687" width="1" height="18" fill="#c0c0c0" />
<rect x="214" y="687" width="1" height="16" fill="#c0c0c0" />
<rect x="222" y="687" width="1" height="20" fill="#c0c0c0" />
<rect x="230" y="687" width="1" height="22" fill="#c0c0c0" />
<rect x="238" y="687" width="1" height="24" fill="#c0c0c0" />
<rect x="246" y="687" width="1" height="26" fill="#c0c0c0" />
<rect x="254" y="687" width="1" height="28" fill="#c0c0c0" />
<rect x="262" y="687" width="1" height="31" fill="#c0c0c0" />
<rect x="270" y="687" width="1" height="37" fill="#c0c0c0" />
<rect x="278" y="687" width="1" height="41" fill="#c0c0c0" />
<rect x="286" y="687" width="1" height="43" fill="#c0c0c0" />
<rect x="294" y="687" width="1" height="44" fill="#c0c0c0" />
<rect x="302" y="687" width="1" height="44" fill="#c0c0c0" />
<rect x="310" y="687" width="1" height="44" fill="#c0c0c0" />
<rect x="318" y="687" width="1" height="43" fill="#c0c0c0" />
<rect x="326" y="687" width="1" height="47" fill="#c0c0c0" />
<rect x="334" y="687" width="1" height="50" fill="#c0c0c0" />
<rect x="342" y="687" width="1" height="50" fill="#c0c0c0" />
<rect x="350" y="687" width="1" height="52" fill="#c0c0c0" />
<rect x="358" y="687" width="1" height="48" fill="#c0c0c0" />
<rect x="366" y="687" width="1" height="45" fill="#c0c0c0" />
<rect x="374" y="687" width="1" height="42" fill="#c0c0c0" />
<rect x="382" y="687" width="1" height="39" fill="#c0c0c0" />
<rect x="390" y="687" width="1" height="37" fill="#c0c0c0" />
<rect x="398" y="687" width="1" height="36" fill="#c0c0c0" />
<rect x="406" y="687" width="1" height="32" fill="#c0c0c0" />
<rect x="414" y="687" width="1" height="27" fill="#c0c0c0" />
<rect x="422" y="687" width="1" height="20" fill="#c0c0c0" />
<rect x="430" y="687" width="1" height="16" fill="#c0c0c0" />
<rect x="438" y="687" width="1" height="12" fill="#c0c0c0" />
<rect x="446" y="687" width="1" height="8" fill="#c0c0c0" />
<rect x="454" y="687" width="1" height="2" fill="#c0c0c0" />
<rect x="462" y="687" width="1" height="1" fill="#c0c0c0" />
<rect x="470" y="687" width="1" height="1" fill="#c0c0c0" />
<rect x="486" y="686" width="1" height="2" fill="#c0c0c0" />
<rect x="494" y="684" width="1" height="4" fill="#c0c0c0" />
<rect x="502" y="681" width="1" height="7" fill="#c0c0c0" />
<rect x="510" y="672" width="1" height="16" fill="#c0c0c0" />
<rect x="518" y="664" width="1" height="24" fill="#c0c0c0" />
<rect x="526" y="660" width="1" height="28" fill="#c0c0c0" />
<rect x="534" y="657" width="1" height="31" fill="#c0c0c0" />
<rect x="542" y="654" width="1" height="34" fill="#c0c0c0" />
<rect x="550" y="654" width="1" height="34" fill="#c0c0c0" />
<rect x="558" y="657" width="1" height="31" fill="#c0c0c0" />
<rect x="566" y="657" width="1" height="31" fill="#c0c0c0" />
<rect x="574" y="656" width="1" height="32" fill="#c0c0c0" />
<rect x="582" y="656" width="1" height="32" fill="#c0c0c0" />
<rect x="590" y="657" width="1" height="31" fill="#c0c0c0" />
<rect x="598" y="660" width="1" height="28" fill="#c0c0c0" />
<rect x="606" y="665" width="1" height="23" fill="#c0c0c0" />
<rect x="614" y="669" width="1" height="19" fill="#c0c0c0" />
<rect x="622" y="672" width="1" height="16" fill="#c0c0c0" />
<rect x="630" y="674" width="1" height="14" fill="#c0c0c0" />
<rect x="638" y="677" width="1" height="11" fill="#c0c0c0" />
<rect x="646" y="675" width="1" height="13" fill="#c0c0c0" />
<rect x="654" y="674" width="1" height="14" fill="#c0c0c0" />
<rect x="662" y="677" width="1" height="11" fill="#c0c0c0" />
<rect x="670" y="680" width="1" height="8" fill="#c0c0c0" />
<rect x="678" y="682" width="1" height="6" fill="#c0c0c0" />
<rect x="686" y="683" width="1" height="5" fill="#c0c0c0" />
<rect x="694" y="686" width="1" height="2" fill="#c0c0c0" />
<rect x="702" y="687" width="1" height="5" fill="#c0c0c0" />
<rect x="710" y="687" width="1" height="13" fill="#c0c0c0" />
<rect x="718" y="687" width="1" height="19" fill="#c0c0c0" />
<rect x="726" y="687" width="1" height="24" fill="#c0c0c0" />
<rect x="734" y="687" width="1" height="29" fill="#c0c0c0" />
<rect x="742" y="687" width="1" height="36" fill="#c0c0c0" />
<rect x="750" y="687" width="1" height="41" fill="#c0c0c0" />
<rect x="758" y="687" width="1" height="44" fill="#c0c0c0" />
<rect x="766" y="687" width="1" height="45" fill="#c0c0c0" />
<rect x="774" y="687" width="1" height="45" fill="#c0c0c0" />
<rect x="782" y="687" width="1" height="44" fill="#c0c0c0" />
<rect x="790" y="687" width="1" height="36" fill="#c0c0c0" />
<rect x="798" y="687" width="1" height="29" fill="#c0c0c0" />
<rect x="806" y="687" width="1" height="22" fill="#c0c0c0" />
<rect x="814" y="687" width="1" height="18" fill="#c0c0c0" />
<rect x="822" y="687" width="1" height="17" fill="#c0c0c0" />
<rect x="830" y="687" width="1" height="15" fill="#c0c0c0" />
<rect x="838" y="687" width="1" height="17" fill="#c0c0c0" />
<rect x="846" y="687" width="1" height="16" fill="#c0c0c0" />
<rect x="854" y="687" width="1" height="17" fill="#c0c0c0" />
<rect x="862" y="687" width="1" height="16" fill="#c0c0c0" />
<rect x="870" y="687" width="1" height="14" fill="#c0c0c0" />
<rect x="878" y="687" width="1" height="10" fill="#c0c0c0" />
<rect x="886" y="687" width="1" height="6" fill="#c0c0c0" />
<rect x="894" y="684" width="1" height="4" fill="#c0c0c0" />
<rect x="902" y="679" width="1" height="9" fill="#c0c0c0" />
<rect x="910" y="675" width="1" height="13" fill="#c0c0c0" />
<rect x="918" y="673" width="1" height="15" fill="#c0c0c0" />
<rect x="926" y="672" width="1" height="16" fill="#c0c0c0" />
<rect x="934" y="677" width="1" height="11" fill="#c0c0c0" />
<rect x="942" y="683" width="1" height="5" fill="#c0c0c0" />
<rect x="958" y="687" width="1" height="6" fill="#c0c0c0" />
<rect x="966" y="687" width="1" height="8" fill="#c0c0c0" />
<rect x="974" y="687" width="1" height="9" fill="#c0c0c0" />
<rect x="982" y="687" width="1" height="16" fill="#c0c0c0" />
<rect x="990" y="687" width="1" height="21" fill="#c0c0c0" />
<rect x="998" y="687" width="1" height="22" fill="#c0c0c0" />
<rect x="1006" y="687" width="1" height="23" fill="#c0c0c0" />
<rect x="1014" y="687" width="1" height="26" fill="#c0c0c0" />
<rect x="1022" y="687" width="1" height="28" fill="#c0c0c0" />
<rect x="1030" y="687" width="1" height="28" fill="#c0c0c0" />
<rect x="1038" y="687" width="1" height="39" fill="#c0c0c0" />
<rect x="1046" y="687" width="1" height="45" fill="#c0c0c0" />
<rect x="1054" y="687" width="1" height="48" fill="#c0c0c0" />
<rect x="1062" y="687" width="1" height="47" fill="#c0c0c0" />
<rect x="1070" y="687" width="1" height="48" fill="#c0c0c0" />
<rect x="1078" y="687" width="1" height="51" fill="#c0c0c0" />
<rect x="1086" y="687" width="1" height="57" fill="#c0c0c0" />
<rect x="1094" y="687" width="1" height="58" fill="#c0c0c0" />
<rect x="1102" y="687" width="1" height="59" fill="#c0c0c0" />
<rect x="1110" y="687" width="1" height="58" fill="#c0c0c0" />
<rect x="1118" y="687" width="1" height="54" fill="#c0c0c0" />
<rect x="1126" y="687" width="1" height="53" fill="#c0c0c0" />
<rect x="1134" y="687" width="1" height="46" fill="#c0c0c0" />
<rect x="1142" y="687" width="1" height="42" fill="#c0c0c0" />
<rect x="1150" y="687" width="1" height="37" fill="#c0c0c0" />
<rect x="1158" y="687" width="1" height="34" fill="#c0c0c0" />
<rect x="1166" y="687" width="1" height="33" fill="#c0c0c0" />
<rect x="1174" y="687" width="1" height="31" fill="#c0c0c0" />
<rect x="1182" y="687" width="1" height="27" fill="#c0c0c0" />
<rect x="1190" y="687" width="1" height="19" fill="#c0c0c0" />
<rect x="1198" y="687" width="1" height="11" fill="#c0c0c0" />
<rect x="1206" y="687" width="1" height="6" fill="#c0c0c0" />
<rect x="1222" y="679" width="1" height="9" fill="#c0c0c0" />
<rect x="1230" y="671" width="1" height="17" fill="#c0c0c0" />
<rect x="1238" y="664" width="1" height="24" fill="#c0c0c0" />
<rect x="1246" y="657" width="1" height="31" fill="#c0c0c0" />
<rect x="1254" y="652" width="1" height="36" fill="#c0c0c0" />
<rect x="1262" y="646" width="1" height="42" fill="#c0c0c0" />
<rect x="1270" y="638" width="1" height="50" fill="#c0c0c0" />
<rect x="1278" y="631" width="1" height="57" fill="#c0c0c0" />
<rect x="1286" y="627" width="1" height="61" fill="#c0c0c0" />
<rect x="1294" y="616" width="1" height="72" fill="#c0c0c0" />
<rect x="1302" y="610" width="1" height="78" fill="#c0c0c0" />
<rect x="1310" y="595" width="1" height="93" fill="#c0c0c0" />
<rect x="1318" y="593" width="1" height="95" fill="#c0c0c0" />
<rect x="1326" y="593" width="1" height="95" fill="#c0c0c0" />
<rect x="1334" y="594" width="1" height="94" fill="#c0c0c0" />
<rect x="1342" y="598" width="1" height="90" fill="#c0c0c0" />
<rect x="1350" y="604" width="1" height="84" fill="#c0c0c0" />
<rect x="1358" y="610" width="1" height="78" fill="#c0c0c0" />
<rect x="1366" y="617" width="1" height="71" fill="#c0c0c0" />
<rect x="1374" y="636" width="1" height="52" fill="#c0c0c0" />
<rect x="1382" y="654" width="1" height="34" fill="#c0c0c0" />
<rect x="1390" y="670" width="1" height="18" fill="#c0c0c0" />
<rect x="1398" y="683" width="1" height="5" fill="#c0c0c0" />
</g>
<polyline points="0.0,711.6 15.0,709.6 37.5,706.1 50.0,701.0 62.4,693.6 70.0,689.6 78.0,684.0 86.0,677.3 94.0,670.7 102.0,665.0 110.0,660.2 118.0,657.1 126.0,655.9 134.0,656.8 142.0,659.2 150.0,663.6 158.0,670.4 166.0,677.9 174.0,685.4 182.0,692.7 190.0,698.3 198.0,702.6 206.0,705.1 214.0,706.5 222.0,707.4 230.0,707.2 238.0,707.1 246.0,707.2 254.0,707.7 262.0,708.7 270.0,710.5 278.0,713.1 286.0,716.1 294.0,718.7 302.0,721.2 310.0,723.4 318.0,725.2 326.0,727.4 334.0,729.5 342.0,731.0 350.0,732.2 358.0,732.7 366.0,732.8 374.0,732.6 382.0,732.0 390.0,731.4 398.0,730.2 406.0,728.2 414.0,725.6 422.0,722.0 430.0,718.4 438.0,714.8 446.0,711.0 454.0,706.9 462.0,703.0 470.0,699.2 478.0,695.7 486.0,692.8 494.0,690.4 502.0,688.1 510.0,685.2 518.0,681.9 526.0,678.8 534.0,675.4 542.0,671.7 550.0,668.1 558.0,664.9 566.0,661.9 574.0,659.1 582.0,657.4 590.0,656.6 598.0,656.7 606.0,657.6 614.0,659.2 622.0,661.2 630.0,663.1 638.0,665.3 646.0,667.4 654.0,669.4 662.0,671.6 670.0,673.9 678.0,675.7 686.0,677.3 694.0,678.8 702.0,680.7 710.0,683.1 718.0,686.3 726.0,690.4 734.0,694.6 742.0,699.3 750.0,704.2 758.0,709.3 766.0,714.3 774.0,718.8 782.0,722.2 790.0,724.2 798.0,724.7 806.0,723.8 814.0,721.8 822.0,719.2 830.0,716.0 838.0,712.9 846.0,709.7 854.0,706.7 862.0,704.5 870.0,702.8 878.0,701.5 886.0,700.2 894.0,698.1 902.0,695.6 910.0,692.6 918.0,689.4 926.0,685.9 934.0,683.2 942.0,681.3 950.0,680.3 958.0,680.3 966.0,681.3 974.0,683.0 982.0,685.9 990.0,689.7 998.0,693.7 1006.0,697.2 1014.0,700.3 1022.0,703.3 1030.0,705.7 1038.0,709.2 1046.0,713.2 1054.0,716.8 1062.0,719.7 1070.0,722.6 1078.0,725.7 1086.0,729.1 1094.0,732.5 1102.0,735.9 1110.0,738.0 1118.0,739.1 1126.0,739.6 1134.0,739.5 1142.0,738.9 1150.0,737.4 1158.0,734.8 1166.0,732.0 1174.0,728.9 1182.0,725.5 1190.0,721.5 1198.0,716.9 1206.0,712.4 1214.0,707.8 1222.0,703.0 1230.0,697.6 1238.0,691.5 1246.0,684.9 1254.0,678.2 1262.0,671.7 1270.0,665.2 1278.0,658.4 1286.0,651.8 1294.0,644.8 1302.0,638.0 1310.0,630.3 1318.0,623.2 1326.0,616.6 1334.0,610.8 1342.0,606.3 1350.0,603.3 1358.0,601.4 1366.0,601.5 1374.0,602.5 1382.0,609.0 1390.0,618.0 1398.0,626.7" fill="none" stroke="#ff0000" stroke-width="1" stroke-dasharray="3,3" shape-rendering="crispEdges"/>
<g shape-rendering="crispEdges">
<rect x="1608" y="585" width="2" height="1" fill="#000" />
<rect x="1608" y="687" width="2" height="1" fill="#000" />
<rect x="1608" y="746" width="2" height="1" fill="#000" />
</g>
<text x="1611" y="594" font-size="10.2" fill="#000" textLength="38" lengthAdjust="spacingAndGlyphs" >0.007586</text>
<text x="1613" y="691" font-size="10.2" fill="#000" textLength="19" lengthAdjust="spacingAndGlyphs" >0.00</text>
<text x="1611" y="750.5" font-size="10.2" fill="#000" textLength="41" lengthAdjust="spacingAndGlyphs" >-0.004906</text>
<text x="2.5" y="768" font-size="10.2" fill="#000" textLength="67.5" lengthAdjust="spacingAndGlyphs" >RSI(14) 38.1733</text>
<g shape-rendering="crispEdges">
<line x1="0" y1="791.5" x2="1607" y2="791.5" stroke="#c0c0c0" stroke-width="1" stroke-dasharray="3,3" stroke-dashoffset="1"/>
<line x1="0" y1="842.5" x2="1607" y2="842.5" stroke="#c0c0c0" stroke-width="1" stroke-dasharray="3,3" stroke-dashoffset="1"/>
<line x1="0" y1="903.5" x2="1607" y2="903.5" stroke="#c0c0c0" stroke-width="1" stroke-dasharray="3,3" stroke-dashoffset="1"/>
</g>
<polyline points="-2.0,851.6 6.0,854.1 14.0,861.1 22.0,834.1 30.0,821.1 38.0,828.1 46.0,828.1 54.0,825.4 62.0,816.2 70.0,816.2 78.0,804.4 86.0,800.9 94.0,809.9 102.0,819.9 110.0,825.6 118.0,851.1 126.0,861.6 134.0,864.8 142.0,865.3 150.0,864.1 158.0,875.3 166.0,853.6 174.0,850.4 182.0,847.4 190.0,849.1 198.0,851.6 206.0,846.9 214.0,839.4 222.0,858.1 230.0,857.4 238.0,855.4 246.0,856.9 254.0,858.1 262.0,861.6 270.0,869.8 278.0,871.6 286.0,868.6 294.0,865.6 302.0,866.6 310.0,867.6 318.0,863.1 326.0,876.3 334.0,875.3 342.0,871.1 350.0,876.3 358.0,855.4 366.0,855.4 374.0,857.4 382.0,857.4 390.0,856.1 398.0,860.3 406.0,849.5 414.0,843.6 422.0,835.6 430.0,838.6 438.0,837.4 446.0,834.4 454.0,827.4 462.0,832.4 470.0,840.4 478.0,841.4 486.0,842.4 494.0,831.1 502.0,828.1 510.0,806.2 518.0,807.4 526.0,811.9 534.0,814.4 542.0,810.2 550.0,824.9 558.0,832.4 566.0,826.1 574.0,820.4 582.0,823.1 590.0,827.9 598.0,837.4 606.0,842.4 614.0,845.6 622.0,842.4 630.0,843.1 638.0,846.6 646.0,827.1 654.0,828.9 662.0,847.4 670.0,847.4 678.0,847.4 686.0,842.6 694.0,851.9 702.0,864.1 710.0,874.3 718.0,871.1 726.0,874.8 734.0,878.6 742.0,884.3 750.0,879.8 758.0,878.3 766.0,878.3 774.0,869.1 782.0,871.1 790.0,841.1 798.0,836.1 806.0,832.4 814.0,840.0 822.0,848.1 830.0,845.4 838.0,858.1 846.0,850.1 854.0,853.1 862.0,849.9 870.0,844.9 878.0,837.4 886.0,832.9 894.0,818.7 902.0,825.4 910.0,824.4 918.0,827.9 926.0,831.9 934.0,851.6 942.0,856.1 950.0,858.1 958.0,860.1 966.0,852.4 974.0,852.4 982.0,868.6 990.0,867.3 998.0,857.4 1006.0,859.4 1014.0,863.1 1022.0,866.3 1030.0,857.4 1038.0,881.3 1046.0,874.1 1054.0,869.1 1062.0,858.6 1070.0,864.3 1078.0,869.3 1086.0,875.3 1094.0,865.3 1102.0,867.3 1110.0,864.1 1118.0,856.4 1126.0,859.4 1134.0,849.4 1142.0,850.4 1150.0,848.4 1158.0,849.9 1166.0,856.4 1174.0,855.4 1182.0,847.4 1190.0,831.6 1198.0,830.4 1206.0,830.4 1214.0,829.1 1222.0,816.7 1230.0,814.9 1238.0,811.7 1246.0,810.4 1254.0,807.4 1262.0,804.4 1270.0,797.9 1278.0,794.2 1286.0,803.2 1294.0,791.2 1302.0,798.2 1310.0,786.9 1318.0,814.9 1326.0,814.9 1334.0,814.2 1342.0,822.9 1350.0,826.4 1358.0,825.4 1366.0,832.9 1374.0,855.4 1382.0,860.3 1390.0,862.3 1398.0,863.6" fill="none" stroke="#1e90ff" stroke-width="1" shape-rendering="crispEdges"/>
<text x="1611" y="766" font-size="10.2" fill="#000" textLength="15" lengthAdjust="spacingAndGlyphs" >100</text>
<text x="1611" y="795" font-size="10.2" fill="#000" textLength="9.6" lengthAdjust="spacingAndGlyphs" >80</text>
<text x="1611" y="846" font-size="10.2" fill="#000" textLength="9.6" lengthAdjust="spacingAndGlyphs" >50</text>
<text x="1611" y="907" font-size="10.2" fill="#000" textLength="9.6" lengthAdjust="spacingAndGlyphs" >15</text>
<text x="1611" y="926" font-size="10.2" fill="#000" textLength="4.8" lengthAdjust="spacingAndGlyphs" >0</text>
<g shape-rendering="crispEdges">
<rect x="62" y="930" width="1" height="3" fill="#000" />
<rect x="126" y="930" width="1" height="3" fill="#000" />
<rect x="190" y="930" width="1" height="3" fill="#000" />
<rect x="254" y="930" width="1" height="3" fill="#000" />
<rect x="318" y="930" width="1" height="3" fill="#000" />
<rect x="382" y="930" width="1" height="3" fill="#000" />
<rect x="446" y="930" width="1" height="3" fill="#000" />
<rect x="510" y="930" width="1" height="3" fill="#000" />
<rect x="574" y="930" width="1" height="3" fill="#000" />
<rect x="638" y="930" width="1" height="3" fill="#000" />
<rect x="702" y="930" width="1" height="3" fill="#000" />
<rect x="766" y="930" width="1" height="3" fill="#000" />
<rect x="830" y="930" width="1" height="3" fill="#000" />
<rect x="894" y="930" width="1" height="3" fill="#000" />
<rect x="958" y="930" width="1" height="3" fill="#000" />
<rect x="1022" y="930" width="1" height="3" fill="#000" />
<rect x="1086" y="930" width="1" height="3" fill="#000" />
<rect x="1150" y="930" width="1" height="3" fill="#000" />
<rect x="1214" y="930" width="1" height="3" fill="#000" />
<rect x="1278" y="930" width="1" height="3" fill="#000" />
<rect x="1342" y="930" width="1" height="3" fill="#000" />
</g>
<text x="-2.5" y="942" font-size="10.2" fill="#000" textLength="49" lengthAdjust="spacingAndGlyphs" >29 Jan 2020</text>
<text x="61.2" y="942" font-size="10.2" fill="#000" textLength="52.5" lengthAdjust="spacingAndGlyphs" >31 Jan 04:00</text>
<text x="125.2" y="942" font-size="10.2" fill="#000" textLength="49.4" lengthAdjust="spacingAndGlyphs" >3 Feb 12:00</text>
<text x="189.2" y="942" font-size="10.2" fill="#000" textLength="49.4" lengthAdjust="spacingAndGlyphs" >4 Feb 20:00</text>
<text x="253.2" y="942" font-size="10.2" fill="#000" textLength="49.4" lengthAdjust="spacingAndGlyphs" >6 Feb 04:00</text>
<text x="317.2" y="942" font-size="10.2" fill="#000" textLength="49.4" lengthAdjust="spacingAndGlyphs" >7 Feb 12:00</text>
<text x="381.2" y="942" font-size="10.2" fill="#000" textLength="52.5" lengthAdjust="spacingAndGlyphs" >10 Feb 20:00</text>
<text x="445.2" y="942" font-size="10.2" fill="#000" textLength="52.5" lengthAdjust="spacingAndGlyphs" >12 Feb 04:00</text>
<text x="509.2" y="942" font-size="10.2" fill="#000" textLength="52.5" lengthAdjust="spacingAndGlyphs" >13 Feb 12:00</text>
<text x="573.2" y="942" font-size="10.2" fill="#000" textLength="52.5" lengthAdjust="spacingAndGlyphs" >16 Feb 23:00</text>
<text x="637.2" y="942" font-size="10.2" fill="#000" textLength="52.5" lengthAdjust="spacingAndGlyphs" >18 Feb 04:00</text>
<text x="701.2" y="942" font-size="10.2" fill="#000" textLength="52.5" lengthAdjust="spacingAndGlyphs" >19 Feb 12:00</text>
<text x="765.2" y="942" font-size="10.2" fill="#000" textLength="52.5" lengthAdjust="spacingAndGlyphs" >20 Feb 20:00</text>
<text x="829.2" y="942" font-size="10.2" fill="#000" textLength="52.5" lengthAdjust="spacingAndGlyphs" >24 Feb 04:00</text>
<text x="893.2" y="942" font-size="10.2" fill="#000" textLength="52.5" lengthAdjust="spacingAndGlyphs" >25 Feb 12:00</text>
<text x="957.2" y="942" font-size="10.2" fill="#000" textLength="52.5" lengthAdjust="spacingAndGlyphs" >26 Feb 20:00</text>
<text x="1021.2" y="942" font-size="10.2" fill="#000" textLength="52.5" lengthAdjust="spacingAndGlyphs" >28 Feb 04:00</text>
<text x="1085.2" y="942" font-size="10.2" fill="#000" textLength="49.4" lengthAdjust="spacingAndGlyphs" >2 Mar 12:00</text>
<text x="1149.2" y="942" font-size="10.2" fill="#000" textLength="49.4" lengthAdjust="spacingAndGlyphs" >3 Mar 20:00</text>
<text x="1213.2" y="942" font-size="10.2" fill="#000" textLength="49.4" lengthAdjust="spacingAndGlyphs" >5 Mar 04:00</text>
<text x="1277.2" y="942" font-size="10.2" fill="#000" textLength="49.4" lengthAdjust="spacingAndGlyphs" >6 Mar 12:00</text>
<text x="1341.2" y="942" font-size="10.2" fill="#000" textLength="49.4" lengthAdjust="spacingAndGlyphs" >9 Mar 20:00</text>
<defs><linearGradient id="gGold" x1="0" y1="0" x2="1" y2="1"><stop offset="0" stop-color="#fbe46a"/><stop offset=".55" stop-color="#e4a820"/><stop offset="1" stop-color="#a86f10"/></linearGradient><linearGradient id="gBlue" x1="0" y1="0" x2="0" y2="1"><stop offset="0" stop-color="#5aa8f0"/><stop offset="1" stop-color="#1c5fc0"/></linearGradient><linearGradient id="gCloud" x1="0" y1="0" x2="0" y2="1"><stop offset="0" stop-color="#ffffff"/><stop offset="1" stop-color="#b9c9e6"/></linearGradient><linearGradient id="gGreen" x1="0" y1="0" x2="1" y2="0"><stop offset="0" stop-color="#28d048"/><stop offset=".5" stop-color="#8cf59a"/><stop offset="1" stop-color="#28d048"/></linearGradient><radialGradient id="gLens" cx=".4" cy=".35" r=".7"><stop offset="0" stop-color="#f4fbff"/><stop offset="1" stop-color="#a8d0f0"/></radialGradient><radialGradient id="gClock" cx=".5" cy=".4" r=".6"><stop offset="0" stop-color="#ffffff"/><stop offset="1" stop-color="#d4e4f4"/></radialGradient><linearGradient id="gSell" x1="0" y1="0" x2="0" y2="1"><stop offset="0" stop-color="#5252f2"/><stop offset="1" stop-color="#3a3ae0"/></linearGradient><linearGradient id="gPrice" x1="0" y1="0" x2="0" y2="1"><stop offset="0" stop-color="#3a3ae2"/><stop offset=".45" stop-color="#1c1ccc"/><stop offset="1" stop-color="#0000aa"/></linearGradient><linearGradient id="gBtn" x1="0" y1="0" x2="0" y2="1"><stop offset="0" stop-color="#f2f2f2"/><stop offset=".5" stop-color="#e6e6e6"/><stop offset=".5" stop-color="#d8d8d8"/><stop offset="1" stop-color="#cfcfcf"/></linearGradient></defs>
<text x="-2" y="15.2" font-size="11.6" fill="#000" textLength="35" lengthAdjust="spacingAndGlyphs" style="font-family:'Liberation Sans','Noto Sans CJK SC',sans-serif">新订单</text>
<g><path d="M50.3,5.3 L61,12.6 L53.2,19.9 L45,13.6 Q48.5,10 50.3,5.3 Z" fill="url(#gGold)" stroke="#a06a10" stroke-width=".7"/><path d="M45.6,13.6 L53.2,19.2 L55,17.6 L47.4,12 Z" fill="#fff6c8" opacity=".55"/><path d="M53.4,20 L61,12.9 L61.2,14.4 L54,21 Z" fill="#8a5a0c"/><path d="M54.5,18.4 L60.5,12.8" stroke="#fff0b0" stroke-width=".6"/></g>
<g><polygon points="75.2,5.6 80.2,4 86,5.2 86,13.6 75.2,13.6" fill="#1e8cf4"/><polygon points="79.6,6.6 85.6,6 85.6,13.4 79.6,13.4" fill="#a8d4fa"/><rect x="81.2" y="8" width="3.4" height="1.1" fill="#2a6cc8"/><polygon points="75.2,5.6 80.2,4 80.2,6 77,7" fill="#7cc0ff"/><path d="M76.2,19.6 a3,3 0 0 1 -.4,-5.9 a3.4,3.4 0 0 1 6,-1 a3,3 0 0 1 4.8,1.6 a2.7,2.7 0 0 1 -.4,5.3 z" fill="url(#gCloud)" stroke="#4a72c0" stroke-width=".9"/></g>
<g fill="none"><circle cx="109" cy="12" r="7.4" stroke="#c4d0e4" stroke-width=".8"/><circle cx="109" cy="12" r="5.4" stroke="#9cb4e0" stroke-width=".9"/><circle cx="109" cy="12" r="3.3" stroke="#6c94dc" stroke-width="1"/><path d="M109,12 L109,19.6 A7.6,7.6 0 0 0 116.6,12 A7.6,7.6 0 0 0 113,5.6 Z" fill="#58b058" opacity=".4" stroke="none"/><path d="M109.2,12 V19.8" stroke="#1ea01e" stroke-width="1.3"/><circle cx="108.8" cy="11.6" r="1.6" fill="#2458d0"/></g>
<g><path d="M129,10.6 L143.6,10.6 L140,16 Q137.8,20.6 134,18.4 Z" fill="#f8dc58" stroke="#c89818" stroke-width=".7"/><path d="M129,10.6 L136,14 L134,18.4 Z" fill="#fff4b0" opacity=".7"/><ellipse cx="136.2" cy="9.2" rx="7.8" ry="2.5" fill="#58a8dc" stroke="#2878b8" stroke-width=".7"/><path d="M132,8.6 Q132.6,4 136.2,4.2 Q139.8,4 140.4,8.6 Q136.2,10.2 132,8.6 Z" fill="#6cb8e8" stroke="#2878b8" stroke-width=".7"/><circle cx="140.6" cy="15.7" r="4.2" fill="#d81818"/><circle cx="140.6" cy="15.7" r="3.4" fill="#f03020"/><rect x="139.2" y="14.3" width="2.8" height="2.8" fill="#fff"/></g>
<text x="151.3" y="15.3" font-size="11.6" fill="#000" textLength="45" lengthAdjust="spacingAndGlyphs" style="font-family:'Liberation Sans','Noto Sans CJK SC',sans-serif">自动交易</text>
<rect x="204" y="0" width="1" height="23" fill="#a0a0a0" shape-rendering="crispEdges"/>
<rect x="205" y="0" width="1" height="23" fill="#fbfbfb" shape-rendering="crispEdges"/>
<g shape-rendering="crispEdges">
<rect x="208" y="2" width="3" height="1" fill="#b4b4b4" />
<rect x="208" y="4" width="3" height="1" fill="#b4b4b4" />
<rect x="208" y="6" width="3" height="1" fill="#b4b4b4" />
<rect x="208" y="8" width="3" height="1" fill="#b4b4b4" />
<rect x="208" y="10" width="3" height="1" fill="#b4b4b4" />
<rect x="208" y="12" width="3" height="1" fill="#b4b4b4" />
<rect x="208" y="14" width="3" height="1" fill="#b4b4b4" />
<rect x="208" y="16" width="3" height="1" fill="#b4b4b4" />
<rect x="208" y="18" width="3" height="1" fill="#b4b4b4" />
<rect x="208" y="20" width="3" height="1" fill="#b4b4b4" />
</g>
<g stroke="#505050" stroke-width="1" fill="#505050"><line x1="222.5" y1="7" x2="222.5" y2="20"/><line x1="220" y1="17.5" x2="232.5" y2="17.5"/><polygon points="222.5,5.8 221,8 224,8" stroke="none"/><polygon points="234,17.5 231.8,16 231.8,19" stroke="none"/></g>
<g stroke="#008000" stroke-width="1.3" fill="none"><path d="M228.5,7 V15.6 M228.5,8.5 H231.2 M226,14.5 H228.5"/></g>
<g shape-rendering="crispEdges">
<rect x="242" y="0" width="26" height="23" fill="#f8f8f8" />
<rect x="242" y="0" width="26" height="1" fill="#a0a0a0" />
<rect x="242" y="0" width="1" height="22" fill="#a0a0a0" />
<rect x="267" y="0" width="1" height="23" fill="#fff" />
<rect x="242" y="22" width="26" height="1" fill="#fff" />
</g>
<g stroke="#505050" stroke-width="1" fill="#505050"><line x1="250.5" y1="7" x2="250.5" y2="20"/><line x1="248" y1="17.5" x2="260.5" y2="17.5"/><polygon points="250.5,5.8 249,8 252,8" stroke="none"/><polygon points="262,17.5 259.8,16 259.8,19" stroke="none"/></g>
<g><path d="M256.5,4 V15.8" stroke="#008000" stroke-width="1.2"/><rect x="254.3" y="6.5" width="4.4" height="7.2" fill="url(#gGreen)" stroke="#008000" stroke-width="1"/></g>
<g stroke="#505050" stroke-width="1" fill="#505050"><line x1="278.5" y1="7" x2="278.5" y2="20"/><line x1="276" y1="17.5" x2="288.5" y2="17.5"/><polygon points="278.5,5.8 277,8 280,8" stroke="none"/><polygon points="290,17.5 287.8,16 287.8,19" stroke="none"/></g>
<path d="M277,15 Q281,8 283.5,8.6 Q286,9.4 288.5,12.6" stroke="#008000" stroke-width="1.2" fill="none"/>
<rect x="299" y="1" width="1" height="21" fill="#a0a0a0" shape-rendering="crispEdges"/>
<rect x="300" y="1" width="1" height="21" fill="#fbfbfb" shape-rendering="crispEdges"/>
<g><line x1="317.5" y1="13.5" x2="323" y2="18.8" stroke="#a07818" stroke-width="2.6" stroke-linecap="round"/><line x1="317.8" y1="13.2" x2="323" y2="18.2" stroke="#e8c048" stroke-width="1.3" stroke-linecap="round"/><circle cx="314" cy="10" r="5.3" fill="url(#gLens)" stroke="#3a80d0" stroke-width="1.2"/><line x1="311.2" y1="10" x2="316.8" y2="10" stroke="#2a68c0" stroke-width="1.6"/><line x1="314" y1="7.2" x2="314" y2="12.8" stroke="#2a68c0" stroke-width="1.6"/></g>
<g><line x1="345.5" y1="13.5" x2="351" y2="18.8" stroke="#a07818" stroke-width="2.6" stroke-linecap="round"/><line x1="345.8" y1="13.2" x2="351" y2="18.2" stroke="#e8c048" stroke-width="1.3" stroke-linecap="round"/><circle cx="342" cy="10" r="5.3" fill="url(#gLens)" stroke="#3a80d0" stroke-width="1.2"/><line x1="339.2" y1="10" x2="344.8" y2="10" stroke="#2a68c0" stroke-width="1.6"/></g>
<g shape-rendering="crispEdges"><rect x="364" y="4" width="8" height="8" fill="#3a9a1e"/><rect x="372" y="4" width="8" height="8" fill="#1c50c8"/><rect x="364" y="12" width="8" height="8" fill="#1c50c8"/><rect x="372" y="12" width="8" height="8" fill="#3a9a1e"/><rect x="365" y="7" width="6" height="4" fill="#e8f4e0"/><rect x="373" y="7" width="6" height="4" fill="#dce8fa"/><rect x="365" y="15" width="6" height="4" fill="#dce8fa"/><rect x="373" y="15" width="6" height="4" fill="#e8f4e0"/><rect x="366" y="9" width="4" height="1" fill="#3a9a1e"/><rect x="374" y="9" width="4" height="1" fill="#1c50c8"/><rect x="366" y="17" width="4" height="1" fill="#1c50c8"/><rect x="374" y="17" width="4" height="1" fill="#3a9a1e"/></g>
<rect x="389" y="1" width="1" height="21" fill="#a0a0a0" shape-rendering="crispEdges"/>
<rect x="390" y="1" width="1" height="21" fill="#fbfbfb" shape-rendering="crispEdges"/>
<g shape-rendering="crispEdges">
<rect x="394" y="0" width="26" height="23" fill="#f8f8f8" />
<rect x="394" y="0" width="26" height="1" fill="#a0a0a0" />
<rect x="394" y="0" width="1" height="22" fill="#a0a0a0" />
<rect x="419" y="0" width="1" height="23" fill="#fff" />
<rect x="394" y="22" width="26" height="1" fill="#fff" />
</g>
<g stroke="#505050" stroke-width="1" fill="#505050"><line x1="402.5" y1="7" x2="402.5" y2="20"/><line x1="400" y1="17.5" x2="412.5" y2="17.5"/><polygon points="402.5,5.8 401,8 404,8" stroke="none"/><polygon points="414,17.5 411.8,16 411.8,19" stroke="none"/></g>
<polygon points="407.5,8 407.5,14.5 411.5,11.3" fill="#c8f0c8" stroke="#18a018" stroke-width="1"/>
<g shape-rendering="crispEdges">
<rect x="422" y="0" width="26" height="23" fill="#f8f8f8" />
<rect x="422" y="0" width="26" height="1" fill="#a0a0a0" />
<rect x="422" y="0" width="1" height="22" fill="#a0a0a0" />
<rect x="447" y="0" width="1" height="23" fill="#fff" />
<rect x="422" y="22" width="26" height="1" fill="#fff" />
</g>
<g stroke="#505050" stroke-width="1" fill="#505050"><line x1="430.5" y1="7" x2="430.5" y2="20"/><line x1="428" y1="17.5" x2="440.5" y2="17.5"/><polygon points="430.5,5.8 429,8 432,8" stroke="none"/><polygon points="442,17.5 439.8,16 439.8,19" stroke="none"/></g>
<g><line x1="436.5" y1="6" x2="436.5" y2="16" stroke="#2060c0" stroke-width="1.2"/><path d="M442,11.5 H438.5" stroke="#d04010" stroke-width="1.2"/><polygon points="437.3,11.5 440,9.3 440,13.7" fill="#e04818"/></g>
<rect x="451" y="1" width="1" height="21" fill="#a0a0a0" shape-rendering="crispEdges"/>
<rect x="452" y="1" width="1" height="21" fill="#fbfbfb" shape-rendering="crispEdges"/>
<g><path d="M461.5,5 h7 l3.5,3.5 v9 h-10.5 z" fill="#f6f6f6" stroke="#909090" stroke-width=".9"/><path d="M468.5,5 v3.5 h3.5" fill="#e0e0e0" stroke="#909090" stroke-width=".7"/><path d="M465.6,7.6 q-1.4,0 -1.4,1.4 v1.2 q0,1 -1,1.2 q1,.2 1,1.2 v1.2 q0,1.4 1.4,1.4" stroke="#504030" stroke-width=".9" fill="none"/><path d="M469.2,10 h3.6 v4 h4 v3.6 h-4 v4 h-3.6 v-4 h-4 v-3.6 h4 z" fill="#2fd02f" stroke="#0a8a0a" stroke-width="1"/><path d="M470.2,11 h1.6 v4 h4 v1.6" stroke="#a0f0a0" stroke-width=".8" fill="none"/></g>
<polygon points="483,11 488.2,11 485.6,14.2" fill="#000"/>
<defs><linearGradient id="gRing" x1="0" y1="0" x2="0" y2="1"><stop offset="0" stop-color="#4a98f0"/><stop offset="1" stop-color="#0c3c9c"/></linearGradient></defs>
<g><circle cx="507" cy="12" r="7.9" fill="url(#gRing)"/><circle cx="507" cy="11.8" r="5.4" fill="url(#gClock)"/><path d="M507,8.4 V12 H509.8" stroke="#303030" stroke-width="1.1" fill="none"/><path d="M507,7 v.8 M507,15.6 v.8 M502.4,11.8 h.8 M510.8,11.8 h.8" stroke="#8090a8" stroke-width=".7"/></g>
<polygon points="522,11 527.2,11 524.6,14.2" fill="#000"/>
<g shape-rendering="crispEdges"><rect x="538.5" y="5.5" width="15" height="13" fill="#fff" stroke="#3a74cc" stroke-width="1"/><rect x="538" y="5" width="16" height="2" fill="#5a98ea"/><rect x="539" y="12" width="14" height="1" fill="#a8c4ec"/></g><path d="M540,11 l2.6,-1 l2.6,.4 l2.8,-1.4 l2,.6 l2.2,-.8" stroke="#a02810" stroke-width="1.2" fill="none"/><path d="M540,16.8 l2.8,-1 l2.4,.6 l3,-2.2 l3.6,2.2" stroke="#109a10" stroke-width="1.2" fill="none"/>
<polygon points="561,11 566.2,11 563.6,14.2" fill="#000"/>
<rect x="572" y="0" width="1" height="23" fill="#a0a0a0" shape-rendering="crispEdges"/>
<rect x="573" y="0" width="1" height="23" fill="#fbfbfb" shape-rendering="crispEdges"/>
<g shape-rendering="crispEdges">
<rect x="576" y="2" width="3" height="1" fill="#b4b4b4" />
<rect x="576" y="4" width="3" height="1" fill="#b4b4b4" />
<rect x="576" y="6" width="3" height="1" fill="#b4b4b4" />
<rect x="576" y="8" width="3" height="1" fill="#b4b4b4" />
<rect x="576" y="10" width="3" height="1" fill="#b4b4b4" />
<rect x="576" y="12" width="3" height="1" fill="#b4b4b4" />
<rect x="576" y="14" width="3" height="1" fill="#b4b4b4" />
<rect x="576" y="16" width="3" height="1" fill="#b4b4b4" />
<rect x="576" y="18" width="3" height="1" fill="#b4b4b4" />
<rect x="576" y="20" width="3" height="1" fill="#b4b4b4" />
</g>
<g shape-rendering="crispEdges">
<rect x="582" y="0" width="26" height="23" fill="#f8f8f8" />
<rect x="582" y="0" width="26" height="1" fill="#a0a0a0" />
<rect x="582" y="0" width="1" height="22" fill="#a0a0a0" />
<rect x="607" y="0" width="1" height="23" fill="#fff" />
<rect x="582" y="22" width="26" height="1" fill="#fff" />
</g>
<polygon points="589.5,5 589.5,17 592.3,14.6 594.6,19.2 596.6,18.2 594.4,13.8 598,13.4" fill="#404040"/>
<g stroke="#505050" stroke-width="1" shape-rendering="crispEdges"><path d="M622.5,5 V11 M622.5,14 V20 M615,12.5 H621 M624,12.5 H630" fill="none"/></g>
<rect x="639" y="1" width="1" height="21" fill="#a0a0a0" shape-rendering="crispEdges"/>
<rect x="640" y="1" width="1" height="21" fill="#fbfbfb" shape-rendering="crispEdges"/>
<g stroke="#505050" stroke-width="1.2" fill="none"><path d="M656.5,6 V19"/><path d="M679,12.5 H691"/><path d="M707,19 L719,7"/><path d="M733,15.6 L746.6,5.4 M735,19 L748.6,8.8" stroke-width="1"/><path d="M737.2,10.2 v8 M740.6,7.8 v8 M744,5 v8.4" stroke-width=".9"/></g>
<text x="744" y="20.5" font-size="7.5" fill="#404040" font-weight="bold" >E</text>
<g stroke="#505050" stroke-width="1" stroke-dasharray="1,1" shape-rendering="crispEdges"><path d="M762,5.5 H775 M762,8.5 H775 M762,12.5 H775 M762,16.5 H771"/></g>
<text x="772" y="20.5" font-size="7.5" fill="#404040" font-weight="bold" >F</text>
<text x="792.3" y="16.6" font-size="12" fill="#505050" textLength="8.4" lengthAdjust="spacingAndGlyphs" font-weight="bold" >A</text>
<rect x="818.5" y="5.5" width="12" height="13" fill="none" stroke="#505050" stroke-width="1" stroke-dasharray="1,1" shape-rendering="crispEdges"/>
<text x="820.6" y="16.6" font-size="11.5" fill="#505050" textLength="8" lengthAdjust="spacingAndGlyphs" font-weight="bold" >T</text>
<g fill="#404040"><polygon points="849.5,6.2 852.9,8.5 849.5,10.8 846.2,8.5"/><polygon points="856.8,13.6 860.1,16.2 856.8,18.8 853.5,16.2"/><path d="M848.2,12 l2.2,2.4 l4.8,-5.8" stroke="#404040" stroke-width="1.2" fill="none"/></g>
<polygon points="867,11 872.2,11 869.6,14.2" fill="#000"/>
<rect x="878" y="0" width="1" height="23" fill="#a0a0a0" shape-rendering="crispEdges"/>
<rect x="879" y="0" width="1" height="23" fill="#fbfbfb" shape-rendering="crispEdges"/>
<g shape-rendering="crispEdges">
<rect x="882" y="2" width="3" height="1" fill="#b4b4b4" />
<rect x="882" y="4" width="3" height="1" fill="#b4b4b4" />
<rect x="882" y="6" width="3" height="1" fill="#b4b4b4" />
<rect x="882" y="8" width="3" height="1" fill="#b4b4b4" />
<rect x="882" y="10" width="3" height="1" fill="#b4b4b4" />
<rect x="882" y="12" width="3" height="1" fill="#b4b4b4" />
<rect x="882" y="14" width="3" height="1" fill="#b4b4b4" />
<rect x="882" y="16" width="3" height="1" fill="#b4b4b4" />
<rect x="882" y="18" width="3" height="1" fill="#b4b4b4" />
<rect x="882" y="20" width="3" height="1" fill="#b4b4b4" />
</g>
<g shape-rendering="crispEdges">
<rect x="1028" y="0" width="25" height="23" fill="#f8f8f8" />
<rect x="1028" y="0" width="25" height="1" fill="#a0a0a0" />
<rect x="1028" y="0" width="1" height="22" fill="#a0a0a0" />
<rect x="1052" y="0" width="1" height="23" fill="#fff" />
<rect x="1028" y="22" width="25" height="1" fill="#fff" />
</g>
<text x="893.2" y="16.3" font-size="11" fill="#404040" textLength="12.9" lengthAdjust="spacingAndGlyphs" >M1</text>
<text x="921.4" y="16.3" font-size="11" fill="#404040" textLength="12.9" lengthAdjust="spacingAndGlyphs" >M5</text>
<text x="947.2" y="16.3" font-size="11" fill="#404040" textLength="18.1" lengthAdjust="spacingAndGlyphs" >M15</text>
<text x="975.3" y="16.3" font-size="11" fill="#404040" textLength="18.2" lengthAdjust="spacingAndGlyphs" >M30</text>
<text x="1006.4" y="16.3" font-size="11" fill="#404040" textLength="11.9" lengthAdjust="spacingAndGlyphs" >H1</text>
<text x="1033.1" y="16.3" font-size="11" fill="#404040" textLength="13.1" lengthAdjust="spacingAndGlyphs" >H4</text>
<text x="1062.3" y="16.3" font-size="11" fill="#404040" textLength="12.2" lengthAdjust="spacingAndGlyphs" >D1</text>
<text x="1089.5" y="16.3" font-size="11" fill="#404040" textLength="14.8" lengthAdjust="spacingAndGlyphs" >W1</text>
<text x="1116.2" y="16.3" font-size="11" fill="#404040" textLength="15.4" lengthAdjust="spacingAndGlyphs" >MN</text>
<rect x="1139" y="0" width="1" height="23" fill="#a0a0a0" shape-rendering="crispEdges"/>
<rect x="1140" y="0" width="1" height="23" fill="#fbfbfb" shape-rendering="crispEdges"/>
<g><line x1="1602" y1="16.8" x2="1606.6" y2="12.4" stroke="#2a60d8" stroke-width="2.5" stroke-linecap="round"/><circle cx="1609.6" cy="9.4" r="3.9" fill="#f4f4f8" stroke="#2a60d8" stroke-width="1.3"/></g>
<defs><linearGradient id="gBub" x1="0" y1="0" x2="0" y2="1"><stop offset="0" stop-color="#ffffff"/><stop offset="1" stop-color="#d8d8e4"/></linearGradient></defs>
<g stroke="#8c8c90" stroke-width=".9" fill="url(#gBub)"><path d="M1644.6,13.3 L1646.2,16 L1642,13.8 Z" fill="#707074"/><ellipse cx="1642.1" cy="9.1" rx="6.6" ry="4.7"/><path d="M1631.6,16.6 L1630.4,18.8 L1634.6,17.2 Z" fill="#707074"/><ellipse cx="1633.4" cy="13.1" rx="5.2" ry="4"/></g>
<g shape-rendering="crispEdges">
<rect x="1" y="48" width="219" height="64" fill="#fff" />
<rect x="1" y="48" width="52" height="24" fill="url(#gSell)" />
<rect x="168" y="48" width="52" height="24" fill="url(#gSell)" />
<rect x="1" y="48" width="52" height="1" fill="#1a1ac0" />
<rect x="1" y="48" width="1" height="24" fill="#1a1ac0" />
<rect x="168" y="48" width="52" height="1" fill="#1a1ac0" />
<rect x="168" y="48" width="1" height="24" fill="#1a1ac0" />
<rect x="219" y="48" width="1" height="24" fill="#2424c8" />
<rect x="52" y="48" width="1" height="24" fill="#2424c8" />
<rect x="1" y="72" width="109" height="40" fill="url(#gPrice)" />
<rect x="112" y="72" width="108" height="40" fill="url(#gPrice)" />
<rect x="5" y="71" width="44" height="1" fill="#1414b0" />
<rect x="5" y="72" width="44" height="1" fill="#9090f2" />
<rect x="172" y="71" width="44" height="1" fill="#1414b0" />
<rect x="172" y="72" width="44" height="1" fill="#9090f2" />
<rect x="53" y="48" width="115" height="24" fill="#fff" />
<rect x="55.5" y="48.5" width="110" height="21" fill="#fff" stroke="#b4b4b4" stroke-width="1"/>
<rect x="57" y="50" width="19" height="19" fill="url(#gBtn)" />
<rect x="56.5" y="49.5" width="20" height="19" fill="none" stroke="#c4c4c4" stroke-width="1"/>
<rect x="146" y="50" width="19" height="19" fill="url(#gBtn)" />
<rect x="145.5" y="49.5" width="20" height="19" fill="none" stroke="#c4c4c4" stroke-width="1"/>
</g>
<polygon points="62.7,57 68.3,57 65.5,60.4" fill="#4a5ac8"/><polygon points="152,60.4 157.6,60.4 154.8,57" fill="#4a5ac8"/>
<text x="13.5" y="64.1" font-size="12.5" fill="#fff" textLength="25.5" lengthAdjust="spacingAndGlyphs" >SELL</text>
<text x="181.5" y="64.1" font-size="12.5" fill="#fff" textLength="23.5" lengthAdjust="spacingAndGlyphs" >BUY</text>
<text x="140.8" y="62.7" font-size="11.7" fill="#000" textLength="23.4" lengthAdjust="spacingAndGlyphs" text-anchor="end" >1.00</text>
<text x="21.5" y="103" font-size="12" fill="#fff" textLength="23.6" lengthAdjust="spacingAndGlyphs" font-weight="bold" >1.28</text>
<text x="49.2" y="103" font-size="33" fill="#fff" textLength="33.4" lengthAdjust="spacingAndGlyphs" >85</text>
<text x="87.6" y="87" font-size="12" fill="#fff" textLength="7.4" lengthAdjust="spacingAndGlyphs" font-weight="bold" >4</text>
<text x="131.4" y="103" font-size="12" fill="#fff" textLength="23.6" lengthAdjust="spacingAndGlyphs" font-weight="bold" >1.28</text>
<text x="160" y="103" font-size="33" fill="#fff" textLength="34.6" lengthAdjust="spacingAndGlyphs" >89</text>
<text x="199.6" y="87" font-size="12" fill="#fff" textLength="6.4" lengthAdjust="spacingAndGlyphs" font-weight="bold" >3</text></svg></body></html>
